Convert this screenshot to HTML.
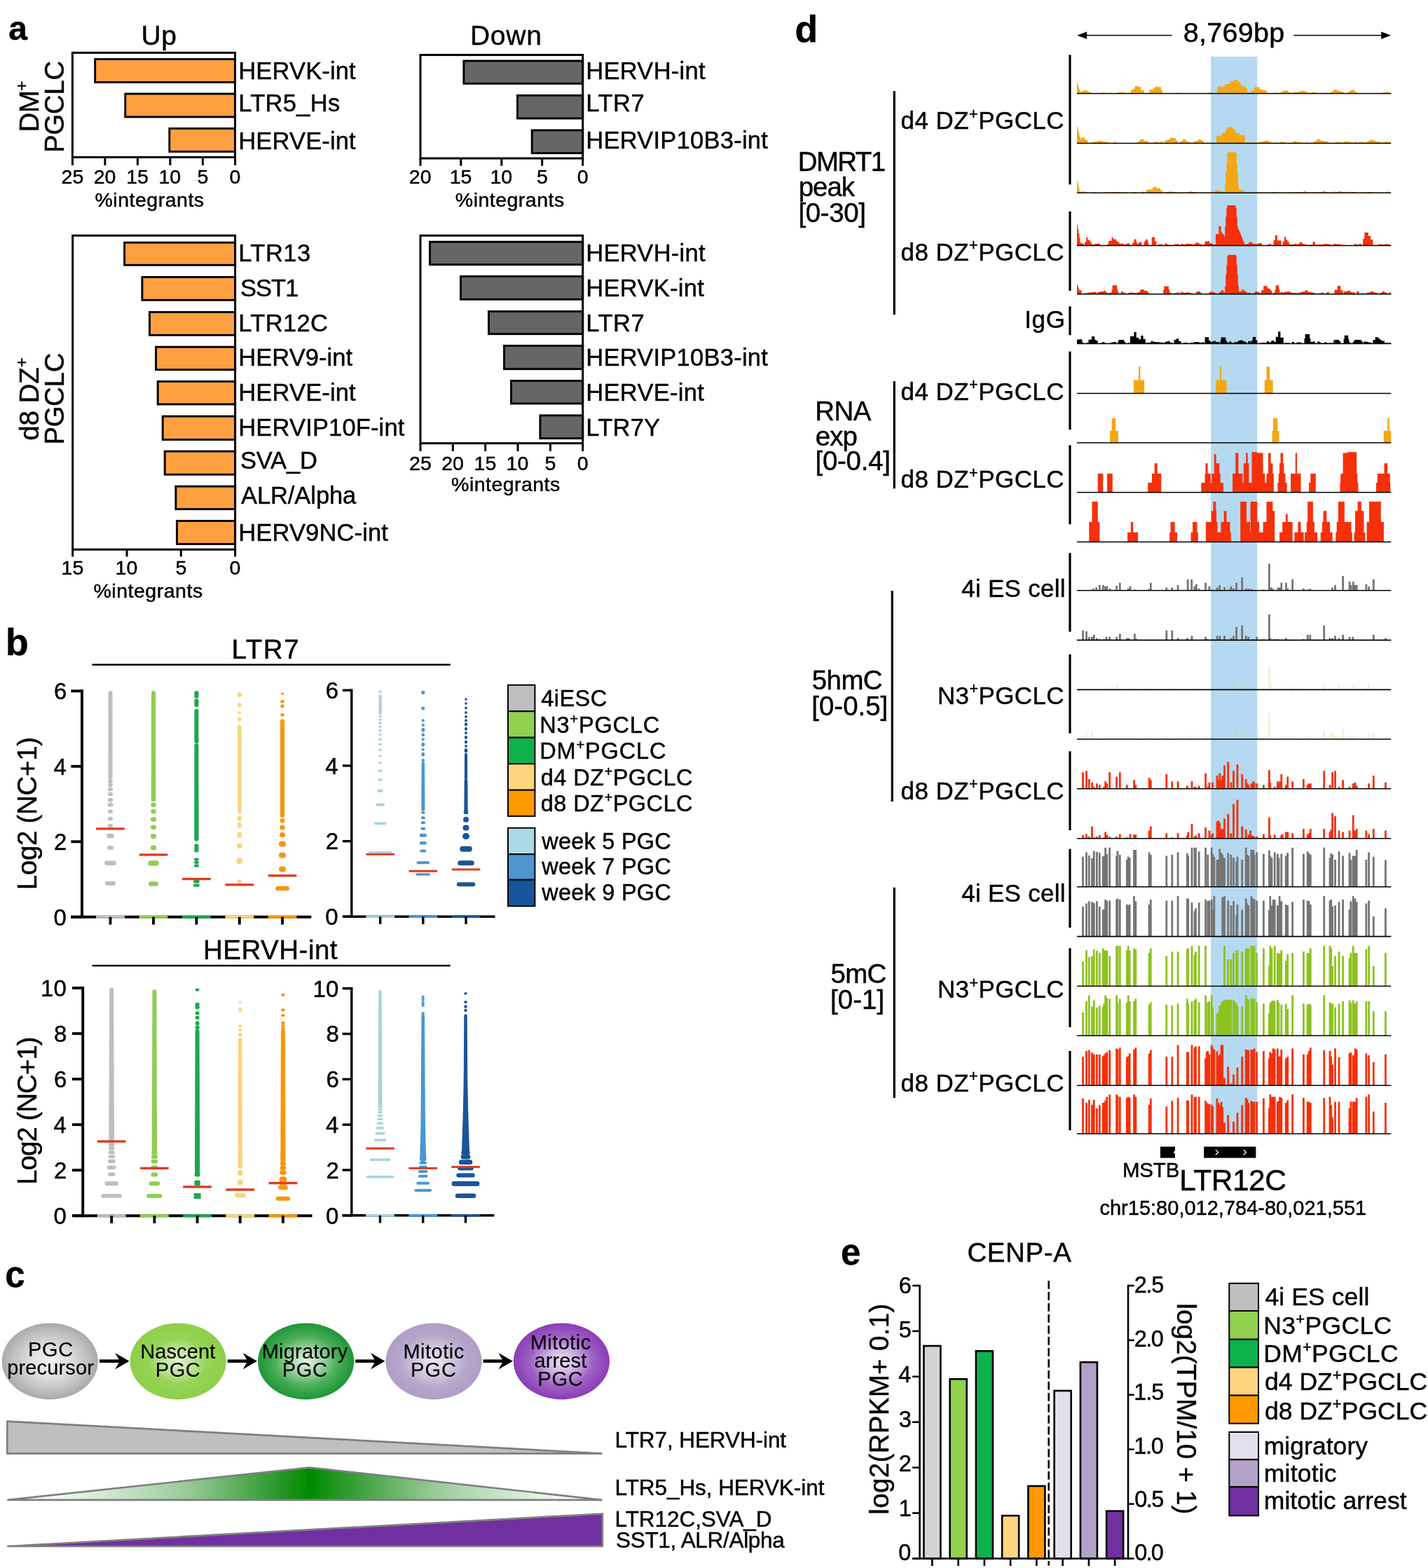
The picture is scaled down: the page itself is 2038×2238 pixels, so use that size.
<!DOCTYPE html>
<html lang="en"><head><meta charset="utf-8"><title>Figure</title>
<style>
html,body{margin:0;padding:0;background:#fff;}
body{width:2038px;height:2238px;overflow:hidden;}
svg{display:block;}
svg text{font-family:"Liberation Sans", sans-serif;fill:#000;white-space:pre;stroke:#000;stroke-width:0.45px;stroke-linejoin:round;}
</style></head><body>
<svg width="2038" height="2238" viewBox="0 0 2038 2238">
<defs>
<radialGradient id="gA" cx="0.5" cy="0.5" r="0.5"><stop offset="0" stop-color="#F2F2F2"/><stop offset="0.45" stop-color="#DCDCDC"/><stop offset="0.8" stop-color="#BDBDBD"/><stop offset="1" stop-color="#A9A9A9"/></radialGradient>
<radialGradient id="gB" cx="0.5" cy="0.5" r="0.5"><stop offset="0" stop-color="#E3F3CF"/><stop offset="0.3" stop-color="#C3E59C"/><stop offset="0.6" stop-color="#96D356"/><stop offset="1" stop-color="#8DCF4B"/></radialGradient>
<radialGradient id="gC" cx="0.5" cy="0.5" r="0.5"><stop offset="0" stop-color="#E3F2E4"/><stop offset="0.3" stop-color="#A9D6AE"/><stop offset="0.65" stop-color="#4AAE58"/><stop offset="1" stop-color="#1E9638"/></radialGradient>
<radialGradient id="gD" cx="0.5" cy="0.5" r="0.5"><stop offset="0" stop-color="#ECE7F2"/><stop offset="0.35" stop-color="#D3CAE0"/><stop offset="0.7" stop-color="#B6A6CB"/><stop offset="1" stop-color="#AF9EC6"/></radialGradient>
<radialGradient id="gE" cx="0.5" cy="0.5" r="0.5"><stop offset="0" stop-color="#EDE3F4"/><stop offset="0.3" stop-color="#D0B5E2"/><stop offset="0.65" stop-color="#9F62C4"/><stop offset="1" stop-color="#8A3DB6"/></radialGradient>
<linearGradient id="gT" x1="0" y1="0" x2="1" y2="0"><stop offset="0" stop-color="#FFFFFF"/><stop offset="0.08" stop-color="#F4FAF4"/><stop offset="0.3" stop-color="#9ACB9A"/><stop offset="0.45" stop-color="#2E9A2E"/><stop offset="0.508" stop-color="#008A00"/><stop offset="0.57" stop-color="#2E9A2E"/><stop offset="0.72" stop-color="#9ACB9A"/><stop offset="0.93" stop-color="#F4FAF4"/><stop offset="1" stop-color="#FFFFFF"/></linearGradient>
</defs>
<rect width="2038" height="2238" fill="#fff"/>
<g>
<rect x="135.70" y="84.40" width="199.80" height="33.00" fill="#FFA040" stroke="#000" stroke-width="2.9"/>
<rect x="178.80" y="133.90" width="156.70" height="33.00" fill="#FFA040" stroke="#000" stroke-width="2.9"/>
<rect x="241.80" y="183.40" width="93.70" height="33.00" fill="#FFA040" stroke="#000" stroke-width="2.9"/>
<rect x="103.40" y="75.30" width="232.10" height="149.10" fill="none" stroke="#000" stroke-width="3.0"/>
<line x1="103.50" y1="224.40" x2="103.50" y2="236.00" stroke="#000" stroke-width="3.0"/>
<line x1="149.90" y1="224.40" x2="149.90" y2="236.00" stroke="#000" stroke-width="3.0"/>
<line x1="196.40" y1="224.40" x2="196.40" y2="236.00" stroke="#000" stroke-width="3.0"/>
<line x1="242.90" y1="224.40" x2="242.90" y2="236.00" stroke="#000" stroke-width="3.0"/>
<line x1="289.40" y1="224.40" x2="289.40" y2="236.00" stroke="#000" stroke-width="3.0"/>
<line x1="335.60" y1="224.40" x2="335.60" y2="236.00" stroke="#000" stroke-width="3.0"/>
<rect x="177.60" y="346.20" width="158.00" height="32.10" fill="#FFA040" stroke="#000" stroke-width="2.9"/>
<rect x="202.90" y="395.50" width="132.70" height="32.80" fill="#FFA040" stroke="#000" stroke-width="2.9"/>
<rect x="213.50" y="445.50" width="122.10" height="32.80" fill="#FFA040" stroke="#000" stroke-width="2.9"/>
<rect x="222.50" y="495.20" width="113.10" height="32.50" fill="#FFA040" stroke="#000" stroke-width="2.9"/>
<rect x="225.20" y="544.50" width="110.40" height="32.50" fill="#FFA040" stroke="#000" stroke-width="2.9"/>
<rect x="232.20" y="594.20" width="103.40" height="33.30" fill="#FFA040" stroke="#000" stroke-width="2.9"/>
<rect x="235.20" y="644.20" width="100.40" height="33.10" fill="#FFA040" stroke="#000" stroke-width="2.9"/>
<rect x="250.90" y="694.20" width="84.70" height="32.50" fill="#FFA040" stroke="#000" stroke-width="2.9"/>
<rect x="252.50" y="743.50" width="83.10" height="33.00" fill="#FFA040" stroke="#000" stroke-width="2.9"/>
<rect x="103.70" y="336.20" width="231.90" height="448.10" fill="none" stroke="#000" stroke-width="3.0"/>
<line x1="103.70" y1="784.30" x2="103.70" y2="794.50" stroke="#000" stroke-width="3.0"/>
<line x1="181.00" y1="784.30" x2="181.00" y2="794.50" stroke="#000" stroke-width="3.0"/>
<line x1="258.30" y1="784.30" x2="258.30" y2="794.50" stroke="#000" stroke-width="3.0"/>
<line x1="335.60" y1="784.30" x2="335.60" y2="794.50" stroke="#000" stroke-width="3.0"/>
<rect x="661.90" y="86.90" width="169.80" height="32.40" fill="#666666" stroke="#000" stroke-width="2.9"/>
<rect x="738.50" y="136.20" width="93.20" height="32.80" fill="#666666" stroke="#000" stroke-width="2.9"/>
<rect x="759.20" y="185.90" width="72.50" height="32.70" fill="#666666" stroke="#000" stroke-width="2.9"/>
<rect x="600.00" y="78.40" width="231.70" height="147.60" fill="none" stroke="#000" stroke-width="3.0"/>
<line x1="600.00" y1="226.00" x2="600.00" y2="236.70" stroke="#000" stroke-width="3.0"/>
<line x1="657.80" y1="226.00" x2="657.80" y2="236.70" stroke="#000" stroke-width="3.0"/>
<line x1="715.80" y1="226.00" x2="715.80" y2="236.70" stroke="#000" stroke-width="3.0"/>
<line x1="773.70" y1="226.00" x2="773.70" y2="236.70" stroke="#000" stroke-width="3.0"/>
<line x1="831.70" y1="226.00" x2="831.70" y2="236.70" stroke="#000" stroke-width="3.0"/>
<rect x="613.50" y="345.20" width="218.20" height="32.50" fill="#666666" stroke="#000" stroke-width="2.9"/>
<rect x="657.50" y="394.50" width="174.20" height="32.80" fill="#666666" stroke="#000" stroke-width="2.9"/>
<rect x="697.50" y="444.50" width="134.20" height="32.20" fill="#666666" stroke="#000" stroke-width="2.9"/>
<rect x="719.50" y="493.50" width="112.20" height="33.20" fill="#666666" stroke="#000" stroke-width="2.9"/>
<rect x="729.50" y="543.50" width="102.20" height="32.50" fill="#666666" stroke="#000" stroke-width="2.9"/>
<rect x="770.90" y="592.90" width="60.80" height="32.80" fill="#666666" stroke="#000" stroke-width="2.9"/>
<rect x="600.00" y="336.20" width="231.70" height="296.50" fill="none" stroke="#000" stroke-width="3.0"/>
<line x1="600.00" y1="632.70" x2="600.00" y2="644.00" stroke="#000" stroke-width="3.0"/>
<line x1="646.30" y1="632.70" x2="646.30" y2="644.00" stroke="#000" stroke-width="3.0"/>
<line x1="692.70" y1="632.70" x2="692.70" y2="644.00" stroke="#000" stroke-width="3.0"/>
<line x1="739.00" y1="632.70" x2="739.00" y2="644.00" stroke="#000" stroke-width="3.0"/>
<line x1="785.40" y1="632.70" x2="785.40" y2="644.00" stroke="#000" stroke-width="3.0"/>
<line x1="831.70" y1="632.70" x2="831.70" y2="644.00" stroke="#000" stroke-width="3.0"/>
</g>
<g>
<path d="M154.40 1107.24 L154.50 988.99 A3.00 3.00 0 0 1 160.50 988.99 L160.60 1107.24 A3.10 3.10 0 0 1 154.40 1107.24 Z" fill="#BEBEBE"/>
<rect x="150.15" y="1257.75" width="14.70" height="6.00" rx="3.00" fill="#BEBEBE"/>
<rect x="149.15" y="1228.47" width="16.70" height="6.50" rx="3.25" fill="#BEBEBE"/>
<rect x="153.00" y="1207.12" width="9.00" height="6.00" rx="3.00" fill="#BEBEBE"/>
<rect x="152.25" y="1189.83" width="10.50" height="6.50" rx="3.25" fill="#BEBEBE"/>
<rect x="154.00" y="1175.97" width="7.00" height="5.50" rx="2.75" fill="#BEBEBE"/>
<rect x="154.00" y="1165.76" width="7.00" height="5.50" rx="2.75" fill="#BEBEBE"/>
<rect x="154.00" y="1155.55" width="7.00" height="5.50" rx="2.75" fill="#BEBEBE"/>
<rect x="153.50" y="1145.62" width="8.00" height="6.00" rx="3.00" fill="#BEBEBE"/>
<rect x="153.75" y="1138.89" width="7.50" height="5.50" rx="2.75" fill="#BEBEBE"/>
<rect x="154.00" y="1130.83" width="7.00" height="5.50" rx="2.75" fill="#BEBEBE"/>
<rect x="154.00" y="1123.84" width="7.00" height="5.50" rx="2.75" fill="#BEBEBE"/>
<rect x="154.10" y="1117.92" width="6.80" height="5.50" rx="2.75" fill="#BEBEBE"/>
<rect x="154.20" y="1112.55" width="6.60" height="5.50" rx="2.75" fill="#BEBEBE"/>
<rect x="154.30" y="1107.17" width="6.40" height="5.50" rx="2.75" fill="#BEBEBE"/>
<path d="M215.70 1136.80 L216.00 988.99 A3.00 3.00 0 0 1 222.00 988.99 L222.30 1136.80 A3.30 3.30 0 0 1 215.70 1136.80 Z" fill="#8FCE52"/>
<rect x="212.00" y="1258.35" width="14.00" height="6.30" rx="3.15" fill="#8FCE52"/>
<rect x="211.35" y="1228.35" width="15.30" height="7.50" rx="3.75" fill="#8FCE52"/>
<rect x="214.90" y="1206.62" width="8.20" height="7.00" rx="3.50" fill="#8FCE52"/>
<rect x="214.90" y="1189.95" width="8.20" height="7.00" rx="3.50" fill="#8FCE52"/>
<rect x="215.00" y="1177.62" width="8.00" height="6.50" rx="3.25" fill="#8FCE52"/>
<rect x="215.00" y="1166.34" width="8.00" height="6.50" rx="3.25" fill="#8FCE52"/>
<rect x="215.25" y="1155.05" width="7.50" height="6.50" rx="3.25" fill="#8FCE52"/>
<rect x="215.25" y="1145.38" width="7.50" height="6.50" rx="3.25" fill="#8FCE52"/>
<rect x="215.50" y="1138.10" width="7.00" height="6.00" rx="3.00" fill="#8FCE52"/>
<path d="M277.25 1197.54 L277.40 1064.24 A3.00 3.00 0 0 1 283.40 1064.24 L283.55 1197.54 A3.15 3.15 0 0 1 277.25 1197.54 Z" fill="#1CA750"/>
<path d="M277.40 1058.33 L277.40 1014.79 A3.00 3.00 0 0 1 283.40 1014.79 L283.40 1058.33 A3.00 3.00 0 0 1 277.40 1058.33 Z" fill="#1CA750"/>
<path d="M277.40 1006.19 L277.40 1000.27 A3.00 3.00 0 0 1 283.40 1000.27 L283.40 1006.19 A3.00 3.00 0 0 1 277.40 1006.19 Z" fill="#1CA750"/>
<path d="M277.40 993.82 L277.40 988.99 A3.00 3.00 0 0 1 283.40 988.99 L283.40 993.82 A3.00 3.00 0 0 1 277.40 993.82 Z" fill="#1CA750"/>
<rect x="275.90" y="1261.50" width="9.00" height="4.30" rx="2.15" fill="#1CA750"/>
<rect x="275.90" y="1256.12" width="9.00" height="4.30" rx="2.15" fill="#1CA750"/>
<rect x="276.90" y="1233.60" width="7.00" height="4.20" rx="2.10" fill="#1CA750"/>
<rect x="276.90" y="1228.76" width="7.00" height="4.20" rx="2.10" fill="#1CA750"/>
<rect x="276.90" y="1224.46" width="7.00" height="4.20" rx="2.10" fill="#1CA750"/>
<rect x="277.15" y="1211.95" width="6.50" height="4.50" rx="2.25" fill="#1CA750"/>
<rect x="277.15" y="1208.19" width="6.50" height="4.50" rx="2.25" fill="#1CA750"/>
<rect x="277.15" y="1204.42" width="6.50" height="4.50" rx="2.25" fill="#1CA750"/>
<path d="M339.00 1158.30 L339.10 1037.36 A2.70 2.70 0 0 1 344.50 1037.36 L344.60 1158.30 A2.80 2.80 0 0 1 339.00 1158.30 Z" fill="#FBD37F"/>
<rect x="338.80" y="1255.27" width="6.00" height="6.00" rx="3.00" fill="#FBD37F"/>
<rect x="337.80" y="1224.21" width="8.00" height="9.00" rx="4.00" fill="#FBD37F"/>
<rect x="338.30" y="1203.21" width="7.00" height="8.00" rx="3.50" fill="#FBD37F"/>
<rect x="338.55" y="1187.62" width="6.50" height="8.00" rx="3.25" fill="#FBD37F"/>
<rect x="338.60" y="1173.65" width="6.40" height="8.00" rx="3.20" fill="#FBD37F"/>
<rect x="338.80" y="1164.47" width="6.00" height="7.00" rx="3.00" fill="#FBD37F"/>
<rect x="339.05" y="1023.86" width="5.50" height="5.50" rx="2.75" fill="#FBD37F"/>
<rect x="339.20" y="1015.19" width="5.20" height="3.50" rx="1.75" fill="#FBD37F"/>
<rect x="339.05" y="1003.19" width="5.50" height="6.00" rx="2.75" fill="#FBD37F"/>
<rect x="338.80" y="988.17" width="6.00" height="7.00" rx="3.00" fill="#FBD37F"/>
<path d="M399.80 1163.67 L400.00 1029.30 A3.00 3.00 0 0 1 406.00 1029.30 L406.20 1163.67 A3.20 3.20 0 0 1 399.80 1163.67 Z" fill="#F7960E"/>
<rect x="393.20" y="1264.70" width="19.60" height="6.50" rx="3.25" fill="#F7960E"/>
<rect x="398.00" y="1236.54" width="10.00" height="8.00" rx="4.00" fill="#F7960E"/>
<rect x="398.00" y="1216.65" width="10.00" height="8.00" rx="4.00" fill="#F7960E"/>
<rect x="398.00" y="1200.52" width="10.00" height="8.00" rx="4.00" fill="#F7960E"/>
<rect x="399.00" y="1188.12" width="8.00" height="7.00" rx="3.50" fill="#F7960E"/>
<rect x="399.25" y="1177.38" width="7.50" height="7.00" rx="3.50" fill="#F7960E"/>
<rect x="399.50" y="1167.70" width="7.00" height="7.00" rx="3.50" fill="#F7960E"/>
<rect x="400.25" y="1017.66" width="5.50" height="5.00" rx="2.50" fill="#F7960E"/>
<rect x="400.25" y="1005.30" width="5.50" height="5.00" rx="2.50" fill="#F7960E"/>
<rect x="400.25" y="999.10" width="5.50" height="4.50" rx="2.25" fill="#F7960E"/>
<rect x="400.75" y="988.56" width="4.50" height="3.00" rx="1.50" fill="#F7960E"/>
<line x1="101.40" y1="1308.80" x2="444.30" y2="1308.80" stroke="#000" stroke-width="3.9"/>
<line x1="117.00" y1="984.35" x2="117.00" y2="1310.75" stroke="#000" stroke-width="3.9"/>
<line x1="101.40" y1="1308.80" x2="117.00" y2="1308.80" stroke="#000" stroke-width="3.9"/>
<line x1="101.40" y1="1201.30" x2="117.00" y2="1201.30" stroke="#000" stroke-width="3.9"/>
<line x1="101.40" y1="1093.80" x2="117.00" y2="1093.80" stroke="#000" stroke-width="3.9"/>
<line x1="101.40" y1="986.30" x2="117.00" y2="986.30" stroke="#000" stroke-width="3.9"/>
<rect x="137.10" y="1306.75" width="40.80" height="4.10" fill="#BEBEBE"/>
<line x1="157.50" y1="1308.80" x2="157.50" y2="1319.60" stroke="#000" stroke-width="3.9"/>
<rect x="198.60" y="1306.75" width="40.80" height="4.10" fill="#8FCE52"/>
<line x1="219.00" y1="1308.80" x2="219.00" y2="1319.60" stroke="#000" stroke-width="3.9"/>
<rect x="260.00" y="1306.75" width="40.80" height="4.10" fill="#1CA750"/>
<line x1="280.40" y1="1308.80" x2="280.40" y2="1319.60" stroke="#000" stroke-width="3.9"/>
<rect x="321.40" y="1306.75" width="40.80" height="4.10" fill="#FBD37F"/>
<line x1="341.80" y1="1308.80" x2="341.80" y2="1319.60" stroke="#000" stroke-width="3.9"/>
<rect x="382.60" y="1306.75" width="40.80" height="4.10" fill="#F7960E"/>
<line x1="403.00" y1="1308.80" x2="403.00" y2="1319.60" stroke="#000" stroke-width="3.9"/>
<rect x="137.20" y="1181.25" width="40.60" height="3.30" fill="#E23A1E"/>
<rect x="198.70" y="1218.35" width="40.60" height="3.30" fill="#E23A1E"/>
<rect x="260.10" y="1252.95" width="40.60" height="3.30" fill="#E23A1E"/>
<rect x="321.50" y="1261.15" width="40.60" height="3.30" fill="#E23A1E"/>
<rect x="382.70" y="1248.15" width="40.60" height="3.30" fill="#E23A1E"/>
<path d="M540.60 1016.43 L540.60 1002.43 A2.10 2.10 0 0 1 544.80 1002.43 L544.80 1016.43 A2.10 2.10 0 0 1 540.60 1016.43 Z" fill="#A8D2DF"/>
<rect x="526.20" y="1214.95" width="33.00" height="2.60" rx="1.30" fill="#A8D2DF"/>
<rect x="533.90" y="1173.55" width="17.60" height="3.50" rx="1.75" fill="#A8D2DF"/>
<rect x="536.35" y="1146.62" width="12.70" height="4.00" rx="2.00" fill="#A8D2DF"/>
<rect x="538.70" y="1126.80" width="8.00" height="4.00" rx="2.00" fill="#A8D2DF"/>
<rect x="539.45" y="1111.27" width="6.50" height="3.50" rx="1.75" fill="#A8D2DF"/>
<rect x="539.70" y="1098.16" width="6.00" height="3.50" rx="1.75" fill="#A8D2DF"/>
<rect x="540.45" y="1087.04" width="4.50" height="3.30" rx="1.65" fill="#A8D2DF"/>
<rect x="540.45" y="1077.25" width="4.50" height="3.30" rx="1.65" fill="#A8D2DF"/>
<rect x="540.45" y="1068.55" width="4.50" height="3.30" rx="1.65" fill="#A8D2DF"/>
<rect x="540.45" y="1060.73" width="4.50" height="3.30" rx="1.65" fill="#A8D2DF"/>
<rect x="540.45" y="1053.62" width="4.50" height="3.30" rx="1.65" fill="#A8D2DF"/>
<rect x="540.45" y="1047.11" width="4.50" height="3.30" rx="1.65" fill="#A8D2DF"/>
<rect x="540.45" y="1041.10" width="4.50" height="3.30" rx="1.65" fill="#A8D2DF"/>
<rect x="540.45" y="1035.53" width="4.50" height="3.30" rx="1.65" fill="#A8D2DF"/>
<rect x="540.45" y="1030.33" width="4.50" height="3.30" rx="1.65" fill="#A8D2DF"/>
<rect x="540.45" y="1025.45" width="4.50" height="3.30" rx="1.65" fill="#A8D2DF"/>
<rect x="540.45" y="1020.86" width="4.50" height="3.30" rx="1.65" fill="#A8D2DF"/>
<rect x="540.45" y="1016.53" width="4.50" height="3.30" rx="1.65" fill="#A8D2DF"/>
<rect x="540.45" y="1012.43" width="4.50" height="3.30" rx="1.65" fill="#A8D2DF"/>
<rect x="540.45" y="1008.53" width="4.50" height="3.30" rx="1.65" fill="#A8D2DF"/>
<rect x="540.45" y="1004.82" width="4.50" height="3.30" rx="1.65" fill="#A8D2DF"/>
<rect x="540.45" y="1001.28" width="4.50" height="3.30" rx="1.65" fill="#A8D2DF"/>
<rect x="540.45" y="997.89" width="4.50" height="3.30" rx="1.65" fill="#A8D2DF"/>
<rect x="540.45" y="994.65" width="4.50" height="3.30" rx="1.65" fill="#A8D2DF"/>
<rect x="540.45" y="991.53" width="4.50" height="3.30" rx="1.65" fill="#A8D2DF"/>
<rect x="540.20" y="992.43" width="5.00" height="6.00" rx="2.50" fill="#A8D2DF"/>
<rect x="540.45" y="985.60" width="4.50" height="3.50" rx="1.75" fill="#A8D2DF"/>
<path d="M601.20 1154.83 L601.60 1089.67 A2.20 2.20 0 0 1 606.00 1089.67 L606.40 1154.83 A2.60 2.60 0 0 1 601.20 1154.83 Z" fill="#4A96D2"/>
<rect x="593.50" y="1246.35" width="20.60" height="3.50" rx="1.75" fill="#4A96D2"/>
<rect x="594.50" y="1229.29" width="18.60" height="4.00" rx="2.00" fill="#4A96D2"/>
<rect x="599.30" y="1212.60" width="9.00" height="4.00" rx="2.00" fill="#4A96D2"/>
<rect x="598.80" y="1201.04" width="10.00" height="4.50" rx="2.25" fill="#4A96D2"/>
<rect x="598.80" y="1189.75" width="10.00" height="5.00" rx="2.50" fill="#4A96D2"/>
<rect x="600.30" y="1180.83" width="7.00" height="4.00" rx="2.00" fill="#4A96D2"/>
<rect x="600.55" y="1172.21" width="6.50" height="4.00" rx="2.00" fill="#4A96D2"/>
<rect x="600.80" y="1165.21" width="6.00" height="4.00" rx="2.00" fill="#4A96D2"/>
<rect x="601.05" y="1157.67" width="5.50" height="4.00" rx="2.00" fill="#4A96D2"/>
<rect x="601.65" y="1082.86" width="4.30" height="5.00" rx="2.15" fill="#4A96D2"/>
<rect x="601.40" y="1073.74" width="4.80" height="6.00" rx="2.40" fill="#4A96D2"/>
<rect x="601.70" y="1067.74" width="4.20" height="4.00" rx="2.00" fill="#4A96D2"/>
<rect x="601.40" y="1059.74" width="4.80" height="6.00" rx="2.40" fill="#4A96D2"/>
<rect x="601.70" y="1053.20" width="4.20" height="4.00" rx="2.00" fill="#4A96D2"/>
<rect x="601.70" y="1046.24" width="4.20" height="5.00" rx="2.10" fill="#4A96D2"/>
<rect x="601.40" y="1038.74" width="4.80" height="6.00" rx="2.40" fill="#4A96D2"/>
<rect x="601.70" y="1032.74" width="4.20" height="4.00" rx="2.00" fill="#4A96D2"/>
<rect x="601.70" y="1026.28" width="4.20" height="4.00" rx="2.00" fill="#4A96D2"/>
<rect x="601.30" y="1008.55" width="5.00" height="5.00" rx="2.50" fill="#4A96D2"/>
<rect x="601.15" y="985.93" width="5.30" height="5.00" rx="2.50" fill="#4A96D2"/>
<path d="M662.35 1157.52 L662.60 1114.44 A2.40 2.40 0 0 1 667.40 1114.44 L667.65 1157.52 A2.65 2.65 0 0 1 662.35 1157.52 Z" fill="#1B5596"/>
<path d="M662.85 1111.21 L663.00 1076.74 A2.00 2.00 0 0 1 667.00 1076.74 L667.15 1111.21 A2.15 2.15 0 0 1 662.85 1111.21 Z" fill="#1B5596"/>
<rect x="651.75" y="1259.20" width="26.50" height="6.00" rx="3.00" fill="#1B5596"/>
<rect x="653.25" y="1228.33" width="23.50" height="7.00" rx="3.50" fill="#1B5596"/>
<rect x="656.20" y="1207.64" width="17.60" height="8.00" rx="4.00" fill="#1B5596"/>
<rect x="660.00" y="1189.10" width="10.00" height="9.00" rx="4.50" fill="#1B5596"/>
<rect x="660.50" y="1177.48" width="9.00" height="8.00" rx="4.00" fill="#1B5596"/>
<rect x="661.00" y="1165.64" width="8.00" height="8.00" rx="4.00" fill="#1B5596"/>
<rect x="661.75" y="1156.14" width="6.50" height="6.00" rx="3.00" fill="#1B5596"/>
<rect x="662.60" y="1068.36" width="4.80" height="6.00" rx="2.40" fill="#1B5596"/>
<rect x="663.10" y="1062.90" width="3.80" height="4.00" rx="1.90" fill="#1B5596"/>
<rect x="663.00" y="1056.47" width="4.00" height="5.00" rx="2.00" fill="#1B5596"/>
<rect x="663.00" y="1050.01" width="4.00" height="5.00" rx="2.00" fill="#1B5596"/>
<rect x="663.10" y="1044.05" width="3.80" height="4.00" rx="1.90" fill="#1B5596"/>
<rect x="663.00" y="1037.63" width="4.00" height="5.00" rx="2.00" fill="#1B5596"/>
<rect x="663.00" y="1031.16" width="4.00" height="5.00" rx="2.00" fill="#1B5596"/>
<rect x="663.10" y="1026.28" width="3.80" height="4.00" rx="1.90" fill="#1B5596"/>
<rect x="663.10" y="1020.89" width="3.80" height="4.00" rx="1.90" fill="#1B5596"/>
<rect x="663.10" y="1014.97" width="3.80" height="4.00" rx="1.90" fill="#1B5596"/>
<rect x="663.20" y="1008.51" width="3.60" height="4.00" rx="1.80" fill="#1B5596"/>
<rect x="663.20" y="1002.25" width="3.60" height="3.60" rx="1.80" fill="#1B5596"/>
<rect x="663.20" y="996.32" width="3.60" height="3.60" rx="1.80" fill="#1B5596"/>
<line x1="488.90" y1="1308.30" x2="706.50" y2="1308.30" stroke="#000" stroke-width="3.4"/>
<line x1="501.80" y1="983.50" x2="501.80" y2="1310.00" stroke="#000" stroke-width="3.4"/>
<line x1="488.90" y1="1308.30" x2="501.80" y2="1308.30" stroke="#000" stroke-width="3.4"/>
<line x1="488.90" y1="1200.60" x2="501.80" y2="1200.60" stroke="#000" stroke-width="3.4"/>
<line x1="488.90" y1="1092.90" x2="501.80" y2="1092.90" stroke="#000" stroke-width="3.4"/>
<line x1="488.90" y1="985.20" x2="501.80" y2="985.20" stroke="#000" stroke-width="3.4"/>
<rect x="522.30" y="1306.50" width="40.80" height="3.60" fill="#A8D2DF"/>
<line x1="542.70" y1="1308.30" x2="542.70" y2="1319.10" stroke="#000" stroke-width="3.4"/>
<rect x="583.40" y="1306.50" width="40.80" height="3.60" fill="#4A96D2"/>
<line x1="603.80" y1="1308.30" x2="603.80" y2="1319.10" stroke="#000" stroke-width="3.4"/>
<rect x="644.60" y="1306.50" width="40.80" height="3.60" fill="#1B5596"/>
<line x1="665.00" y1="1308.30" x2="665.00" y2="1319.10" stroke="#000" stroke-width="3.4"/>
<rect x="522.40" y="1217.80" width="40.60" height="3.00" fill="#E23A1E"/>
<rect x="583.50" y="1241.80" width="40.60" height="3.00" fill="#E23A1E"/>
<rect x="644.70" y="1239.50" width="40.60" height="3.00" fill="#E23A1E"/>
<path d="M155.30 1631.20 L156.25 1412.48 A2.95 2.95 0 0 1 162.15 1412.48 L163.10 1631.20 A3.90 3.90 0 0 1 155.30 1631.20 Z" fill="#BEBEBE"/>
<rect x="144.50" y="1703.88" width="29.40" height="5.90" rx="2.95" fill="#BEBEBE"/>
<rect x="149.40" y="1686.23" width="19.60" height="5.90" rx="2.95" fill="#BEBEBE"/>
<rect x="153.80" y="1673.30" width="10.80" height="5.50" rx="2.75" fill="#BEBEBE"/>
<rect x="152.85" y="1663.55" width="12.70" height="5.50" rx="2.75" fill="#BEBEBE"/>
<rect x="153.80" y="1654.78" width="10.80" height="5.50" rx="2.75" fill="#BEBEBE"/>
<rect x="154.30" y="1648.20" width="9.80" height="5.00" rx="2.50" fill="#BEBEBE"/>
<rect x="154.70" y="1642.35" width="9.00" height="5.00" rx="2.50" fill="#BEBEBE"/>
<rect x="155.00" y="1636.83" width="8.40" height="5.00" rx="2.50" fill="#BEBEBE"/>
<rect x="155.20" y="1631.95" width="8.00" height="5.00" rx="2.50" fill="#BEBEBE"/>
<path d="M216.70 1640.95 L217.45 1415.08 A2.95 2.95 0 0 1 223.35 1415.08 L224.10 1640.95 A3.70 3.70 0 0 1 216.70 1640.95 Z" fill="#8FCE52"/>
<rect x="209.15" y="1703.88" width="22.50" height="5.90" rx="2.95" fill="#8FCE52"/>
<rect x="212.55" y="1686.18" width="15.70" height="6.00" rx="3.00" fill="#8FCE52"/>
<rect x="215.50" y="1673.38" width="9.80" height="6.00" rx="3.00" fill="#8FCE52"/>
<rect x="215.50" y="1663.30" width="9.80" height="6.00" rx="3.00" fill="#8FCE52"/>
<rect x="215.50" y="1654.85" width="9.80" height="6.00" rx="3.00" fill="#8FCE52"/>
<rect x="215.90" y="1648.03" width="9.00" height="6.00" rx="3.00" fill="#8FCE52"/>
<rect x="216.20" y="1642.17" width="8.40" height="6.00" rx="3.00" fill="#8FCE52"/>
<path d="M278.00 1670.20 L278.60 1471.95 A3.00 3.00 0 0 1 284.60 1471.95 L285.20 1670.20 A3.60 3.60 0 0 1 278.00 1670.20 Z" fill="#1CA750"/>
<rect x="276.20" y="1706.88" width="10.80" height="4.00" rx="2.00" fill="#1CA750"/>
<rect x="276.20" y="1702.98" width="10.80" height="4.00" rx="2.00" fill="#1CA750"/>
<rect x="277.20" y="1687.78" width="8.80" height="4.50" rx="2.25" fill="#1CA750"/>
<rect x="277.20" y="1684.85" width="8.80" height="4.50" rx="2.25" fill="#1CA750"/>
<rect x="277.60" y="1675.10" width="8.00" height="4.50" rx="2.25" fill="#1CA750"/>
<rect x="277.60" y="1672.17" width="8.00" height="4.50" rx="2.25" fill="#1CA750"/>
<rect x="278.60" y="1463.43" width="6.00" height="6.00" rx="3.00" fill="#1CA750"/>
<rect x="278.60" y="1457.58" width="6.00" height="6.00" rx="3.00" fill="#1CA750"/>
<rect x="278.60" y="1449.70" width="6.00" height="5.50" rx="2.75" fill="#1CA750"/>
<rect x="278.60" y="1443.45" width="6.00" height="5.00" rx="2.50" fill="#1CA750"/>
<rect x="278.40" y="1434.50" width="6.40" height="6.00" rx="3.00" fill="#1CA750"/>
<rect x="278.40" y="1431.10" width="6.40" height="5.00" rx="2.50" fill="#1CA750"/>
<rect x="278.65" y="1410.80" width="5.90" height="4.00" rx="2.00" fill="#1CA750"/>
<path d="M339.50 1660.45 L339.90 1483.65 A2.80 2.80 0 0 1 345.50 1483.65 L345.90 1660.45 A3.20 3.20 0 0 1 339.50 1660.45 Z" fill="#FBD37F"/>
<rect x="334.35" y="1702.95" width="16.70" height="6.00" rx="3.00" fill="#FBD37F"/>
<rect x="338.60" y="1683.75" width="8.20" height="8.00" rx="4.00" fill="#FBD37F"/>
<rect x="338.80" y="1670.10" width="7.80" height="8.00" rx="3.90" fill="#FBD37F"/>
<rect x="339.20" y="1661.17" width="7.00" height="7.00" rx="3.50" fill="#FBD37F"/>
<rect x="339.95" y="1474.33" width="5.50" height="5.00" rx="2.50" fill="#FBD37F"/>
<rect x="340.20" y="1468.00" width="5.00" height="4.00" rx="2.00" fill="#FBD37F"/>
<rect x="340.20" y="1462.15" width="5.00" height="4.00" rx="2.00" fill="#FBD37F"/>
<rect x="340.20" y="1441.60" width="5.00" height="3.50" rx="1.75" fill="#FBD37F"/>
<rect x="340.20" y="1438.35" width="5.00" height="3.50" rx="1.75" fill="#FBD37F"/>
<rect x="340.45" y="1428.93" width="4.50" height="3.50" rx="1.75" fill="#FBD37F"/>
<path d="M400.30 1655.90 L400.95 1471.95 A2.95 2.95 0 0 1 406.85 1471.95 L407.50 1655.90 A3.60 3.60 0 0 1 400.30 1655.90 Z" fill="#F7960E"/>
<rect x="393.60" y="1707.83" width="20.60" height="6.00" rx="3.00" fill="#F7960E"/>
<rect x="397.05" y="1691.81" width="13.70" height="6.50" rx="3.25" fill="#F7960E"/>
<rect x="398.40" y="1685.73" width="11.00" height="6.00" rx="3.00" fill="#F7960E"/>
<rect x="398.50" y="1679.20" width="10.80" height="8.00" rx="4.00" fill="#F7960E"/>
<rect x="399.20" y="1669.95" width="9.40" height="7.00" rx="3.50" fill="#F7960E"/>
<rect x="399.50" y="1663.45" width="8.80" height="7.00" rx="3.50" fill="#F7960E"/>
<rect x="399.90" y="1656.95" width="8.00" height="7.00" rx="3.50" fill="#F7960E"/>
<rect x="401.15" y="1466.05" width="5.50" height="4.00" rx="2.00" fill="#F7960E"/>
<rect x="401.15" y="1462.15" width="5.50" height="4.00" rx="2.00" fill="#F7960E"/>
<rect x="401.15" y="1457.75" width="5.50" height="5.00" rx="2.50" fill="#F7960E"/>
<rect x="401.15" y="1447.20" width="5.50" height="4.00" rx="2.00" fill="#F7960E"/>
<rect x="401.15" y="1439.40" width="5.50" height="4.00" rx="2.00" fill="#F7960E"/>
<rect x="401.15" y="1417.95" width="5.50" height="4.00" rx="2.00" fill="#F7960E"/>
<line x1="103.00" y1="1735.20" x2="445.50" y2="1735.20" stroke="#000" stroke-width="3.9"/>
<line x1="118.20" y1="1408.25" x2="118.20" y2="1737.15" stroke="#000" stroke-width="3.9"/>
<line x1="103.00" y1="1735.20" x2="118.20" y2="1735.20" stroke="#000" stroke-width="3.9"/>
<line x1="103.00" y1="1670.20" x2="118.20" y2="1670.20" stroke="#000" stroke-width="3.9"/>
<line x1="103.00" y1="1605.20" x2="118.20" y2="1605.20" stroke="#000" stroke-width="3.9"/>
<line x1="103.00" y1="1540.20" x2="118.20" y2="1540.20" stroke="#000" stroke-width="3.9"/>
<line x1="103.00" y1="1475.20" x2="118.20" y2="1475.20" stroke="#000" stroke-width="3.9"/>
<line x1="103.00" y1="1410.20" x2="118.20" y2="1410.20" stroke="#000" stroke-width="3.9"/>
<rect x="138.80" y="1733.15" width="40.80" height="4.10" fill="#BEBEBE"/>
<line x1="159.20" y1="1735.20" x2="159.20" y2="1746.00" stroke="#000" stroke-width="3.9"/>
<rect x="200.00" y="1733.15" width="40.80" height="4.10" fill="#8FCE52"/>
<line x1="220.40" y1="1735.20" x2="220.40" y2="1746.00" stroke="#000" stroke-width="3.9"/>
<rect x="261.20" y="1733.15" width="40.80" height="4.10" fill="#1CA750"/>
<line x1="281.60" y1="1735.20" x2="281.60" y2="1746.00" stroke="#000" stroke-width="3.9"/>
<rect x="322.30" y="1733.15" width="40.80" height="4.10" fill="#FBD37F"/>
<line x1="342.70" y1="1735.20" x2="342.70" y2="1746.00" stroke="#000" stroke-width="3.9"/>
<rect x="383.50" y="1733.15" width="40.80" height="4.10" fill="#F7960E"/>
<line x1="403.90" y1="1735.20" x2="403.90" y2="1746.00" stroke="#000" stroke-width="3.9"/>
<rect x="138.90" y="1627.40" width="40.60" height="3.40" fill="#E23A1E"/>
<rect x="200.10" y="1665.70" width="40.60" height="3.40" fill="#E23A1E"/>
<rect x="261.30" y="1692.30" width="40.60" height="3.40" fill="#E23A1E"/>
<rect x="322.40" y="1696.30" width="40.60" height="3.40" fill="#E23A1E"/>
<rect x="383.60" y="1686.90" width="40.60" height="3.40" fill="#E23A1E"/>
<path d="M539.55 1574.42 L540.35 1415.34 A2.15 2.15 0 0 1 544.65 1415.34 L545.45 1574.42 A2.95 2.95 0 0 1 539.55 1574.42 Z" fill="#A8D2DF"/>
<rect x="522.50" y="1678.10" width="40.00" height="3.50" rx="1.75" fill="#A8D2DF"/>
<rect x="527.80" y="1653.53" width="29.40" height="3.50" rx="1.75" fill="#A8D2DF"/>
<rect x="531.50" y="1637.52" width="22.00" height="3.50" rx="1.75" fill="#A8D2DF"/>
<rect x="533.70" y="1625.61" width="17.60" height="3.50" rx="1.75" fill="#A8D2DF"/>
<rect x="535.15" y="1616.12" width="14.70" height="3.50" rx="1.75" fill="#A8D2DF"/>
<rect x="536.80" y="1608.25" width="11.40" height="3.50" rx="1.75" fill="#A8D2DF"/>
<rect x="537.80" y="1601.50" width="9.40" height="3.50" rx="1.75" fill="#A8D2DF"/>
<rect x="538.40" y="1595.61" width="8.20" height="3.50" rx="1.75" fill="#A8D2DF"/>
<rect x="538.75" y="1590.38" width="7.50" height="3.50" rx="1.75" fill="#A8D2DF"/>
<rect x="539.00" y="1585.68" width="7.00" height="3.50" rx="1.75" fill="#A8D2DF"/>
<rect x="539.20" y="1581.41" width="6.60" height="3.50" rx="1.75" fill="#A8D2DF"/>
<rect x="539.35" y="1577.49" width="6.30" height="3.50" rx="1.75" fill="#A8D2DF"/>
<rect x="539.45" y="1573.88" width="6.10" height="3.50" rx="1.75" fill="#A8D2DF"/>
<path d="M599.20 1653.80 L600.45 1605.20 A3.25 3.25 0 0 1 606.95 1605.20 L608.20 1653.80 A4.50 4.50 0 0 1 599.20 1653.80 Z" fill="#4A96D2"/>
<path d="M600.45 1605.20 L601.45 1449.68 A2.25 2.25 0 0 1 605.95 1449.68 L606.95 1605.20 A3.25 3.25 0 0 1 600.45 1605.20 Z" fill="#4A96D2"/>
<rect x="591.45" y="1696.90" width="24.50" height="4.00" rx="2.00" fill="#4A96D2"/>
<rect x="594.40" y="1686.79" width="18.60" height="4.00" rx="2.00" fill="#4A96D2"/>
<rect x="596.85" y="1676.75" width="13.70" height="4.00" rx="2.00" fill="#4A96D2"/>
<rect x="596.85" y="1669.94" width="13.70" height="4.00" rx="2.00" fill="#4A96D2"/>
<rect x="597.70" y="1663.79" width="12.00" height="4.00" rx="2.00" fill="#4A96D2"/>
<rect x="598.30" y="1657.63" width="10.80" height="4.00" rx="2.00" fill="#4A96D2"/>
<rect x="598.80" y="1652.77" width="9.80" height="4.00" rx="2.00" fill="#4A96D2"/>
<rect x="601.45" y="1444.44" width="4.50" height="4.00" rx="2.00" fill="#4A96D2"/>
<rect x="601.45" y="1433.10" width="4.50" height="4.00" rx="2.00" fill="#4A96D2"/>
<rect x="601.45" y="1429.21" width="4.50" height="4.00" rx="2.00" fill="#4A96D2"/>
<rect x="601.45" y="1425.00" width="4.50" height="4.00" rx="2.00" fill="#4A96D2"/>
<rect x="601.45" y="1421.11" width="4.50" height="4.00" rx="2.00" fill="#4A96D2"/>
<path d="M659.00 1642.46 L660.75 1589.00 A3.75 3.75 0 0 1 668.25 1589.00 L670.00 1642.46 A5.50 5.50 0 0 1 659.00 1642.46 Z" fill="#1B5596"/>
<path d="M660.75 1589.00 L661.75 1540.40 A2.75 2.75 0 0 1 667.25 1540.40 L668.25 1589.00 A3.75 3.75 0 0 1 660.75 1589.00 Z" fill="#1B5596"/>
<path d="M661.75 1540.40 L662.25 1449.68 A2.25 2.25 0 0 1 666.75 1449.68 L667.25 1540.40 A2.75 2.75 0 0 1 661.75 1540.40 Z" fill="#1B5596"/>
<rect x="649.80" y="1703.49" width="29.40" height="6.50" rx="3.25" fill="#1B5596"/>
<rect x="644.50" y="1685.94" width="40.00" height="7.00" rx="3.50" fill="#1B5596"/>
<rect x="651.25" y="1674.45" width="26.50" height="6.00" rx="3.00" fill="#1B5596"/>
<rect x="653.25" y="1664.41" width="22.50" height="6.00" rx="3.00" fill="#1B5596"/>
<rect x="654.70" y="1655.16" width="19.60" height="7.00" rx="3.50" fill="#1B5596"/>
<rect x="657.65" y="1647.38" width="13.70" height="7.00" rx="3.50" fill="#1B5596"/>
<rect x="658.15" y="1642.05" width="12.70" height="6.00" rx="3.00" fill="#1B5596"/>
<rect x="662.25" y="1439.65" width="4.50" height="4.50" rx="2.25" fill="#1B5596"/>
<rect x="662.25" y="1434.47" width="4.50" height="4.50" rx="2.25" fill="#1B5596"/>
<rect x="662.25" y="1428.24" width="4.50" height="4.00" rx="2.00" fill="#1B5596"/>
<rect x="662.25" y="1416.18" width="4.50" height="3.50" rx="1.75" fill="#1B5596"/>
<line x1="488.60" y1="1734.80" x2="705.30" y2="1734.80" stroke="#000" stroke-width="3.4"/>
<line x1="501.80" y1="1409.10" x2="501.80" y2="1736.50" stroke="#000" stroke-width="3.4"/>
<line x1="488.60" y1="1734.80" x2="501.80" y2="1734.80" stroke="#000" stroke-width="3.4"/>
<line x1="488.60" y1="1670.00" x2="501.80" y2="1670.00" stroke="#000" stroke-width="3.4"/>
<line x1="488.60" y1="1605.20" x2="501.80" y2="1605.20" stroke="#000" stroke-width="3.4"/>
<line x1="488.60" y1="1540.40" x2="501.80" y2="1540.40" stroke="#000" stroke-width="3.4"/>
<line x1="488.60" y1="1475.60" x2="501.80" y2="1475.60" stroke="#000" stroke-width="3.4"/>
<line x1="488.60" y1="1410.80" x2="501.80" y2="1410.80" stroke="#000" stroke-width="3.4"/>
<rect x="522.10" y="1733.00" width="40.80" height="3.60" fill="#A8D2DF"/>
<line x1="542.50" y1="1734.80" x2="542.50" y2="1745.60" stroke="#000" stroke-width="3.4"/>
<rect x="583.30" y="1733.00" width="40.80" height="3.60" fill="#4A96D2"/>
<line x1="603.70" y1="1734.80" x2="603.70" y2="1745.60" stroke="#000" stroke-width="3.4"/>
<rect x="644.10" y="1733.00" width="40.80" height="3.60" fill="#1B5596"/>
<line x1="664.50" y1="1734.80" x2="664.50" y2="1745.60" stroke="#000" stroke-width="3.4"/>
<rect x="522.20" y="1637.60" width="40.60" height="3.00" fill="#E23A1E"/>
<rect x="583.40" y="1665.90" width="40.60" height="3.00" fill="#E23A1E"/>
<rect x="644.20" y="1664.10" width="40.60" height="3.00" fill="#E23A1E"/>
<line x1="131.50" y1="948.80" x2="642.70" y2="948.80" stroke="#000" stroke-width="2.4"/>
<line x1="131.50" y1="1378.30" x2="642.70" y2="1378.30" stroke="#000" stroke-width="2.4"/>
<rect x="725.00" y="977.70" width="38.40" height="37.50" fill="#BFBFBF" stroke="#000" stroke-width="2.0"/>
<rect x="725.00" y="1015.20" width="38.40" height="37.50" fill="#92D050" stroke="#000" stroke-width="2.0"/>
<rect x="725.00" y="1052.70" width="38.40" height="37.50" fill="#0DB14B" stroke="#000" stroke-width="2.0"/>
<rect x="725.00" y="1090.20" width="38.40" height="37.50" fill="#FFD580" stroke="#000" stroke-width="2.0"/>
<rect x="725.00" y="1127.70" width="38.40" height="37.20" fill="#FF9900" stroke="#000" stroke-width="2.0"/>
<rect x="725.00" y="1181.70" width="38.40" height="37.60" fill="#ADD8E6" stroke="#000" stroke-width="2.0"/>
<rect x="725.00" y="1219.30" width="38.40" height="36.40" fill="#4D96D0" stroke="#000" stroke-width="2.0"/>
<rect x="725.00" y="1255.70" width="38.40" height="37.60" fill="#17569B" stroke="#000" stroke-width="2.0"/>
</g>
<g>
<ellipse cx="71.3" cy="1943.0" rx="68.6" ry="54.4" fill="url(#gA)"/>
<ellipse cx="254.2" cy="1943.0" rx="68.6" ry="54.4" fill="url(#gB)"/>
<ellipse cx="436.6" cy="1943.0" rx="68.6" ry="54.4" fill="url(#gC)"/>
<ellipse cx="619.0" cy="1943.0" rx="68.6" ry="54.4" fill="url(#gD)"/>
<ellipse cx="801.4" cy="1943.0" rx="68.6" ry="54.4" fill="url(#gE)"/>
<line x1="141.90" y1="1942.70" x2="172.20" y2="1942.70" stroke="#000" stroke-width="4.6"/>
<path d="M184.60 1942.70 L164.20 1931.00 L171.00 1942.70 L164.20 1954.40 Z" fill="#000"/>
<line x1="324.80" y1="1942.70" x2="354.60" y2="1942.70" stroke="#000" stroke-width="4.6"/>
<path d="M367.00 1942.70 L346.60 1931.00 L353.40 1942.70 L346.60 1954.40 Z" fill="#000"/>
<line x1="507.20" y1="1942.70" x2="537.00" y2="1942.70" stroke="#000" stroke-width="4.6"/>
<path d="M549.40 1942.70 L529.00 1931.00 L535.80 1942.70 L529.00 1954.40 Z" fill="#000"/>
<line x1="689.60" y1="1942.70" x2="719.40" y2="1942.70" stroke="#000" stroke-width="4.6"/>
<path d="M731.80 1942.70 L711.40 1931.00 L718.20 1942.70 L711.40 1954.40 Z" fill="#000"/>
<path d="M10.3 2028.6 L859.5 2074.6 L10.3 2074.6 Z" fill="#BFBFBF" stroke="#7F7F7F" stroke-width="2.7" stroke-linejoin="miter"/>
<path d="M10.3 2140.8 L441.7 2094.6 L859.5 2140.8 Z" fill="url(#gT)" stroke="#7F7F7F" stroke-width="2.7" stroke-linejoin="miter"/>
<path d="M10.3 2207.0 L859.8 2160.6 L859.8 2207.0 Z" fill="#7030A0" stroke="#7F7F7F" stroke-width="2.7" stroke-linejoin="miter"/>
</g>
<g>
<rect x="1728.10" y="80.80" width="66.10" height="1537.40" fill="#B5D9F0"/>
<path d="M1537.0 133.6V118.5H1538.1V121.6H1539.2V124.7H1540.3V128.0H1541.4V131.2H1544.7V129.9H1546.9V129.1H1551.3V130.4H1553.5V131.2H1556.8V133.5H1560.1V133.6H1566.7V133.3H1570.0V133.2H1573.3V131.7H1576.6V133.1H1579.9V133.3H1583.2V132.7H1586.5V133.6H1593.1V132.9H1595.3V131.8H1600.8V131.7H1605.2V132.3H1606.3V133.6H1609.6V132.5H1614.0V128.2H1617.3V126.6H1619.5V123.1H1625.0V124.1H1628.3V128.7H1632.7V133.2H1636.0V132.8H1639.3V133.4H1640.4V127.9H1642.6V128.1H1645.9V125.6H1649.2V123.0H1651.4V124.2H1656.9V128.4H1659.1V133.2H1662.4V133.6H1669.0V133.0H1672.3V132.9H1676.7V132.5H1680.0V132.4H1683.3V133.0H1686.6V133.2H1688.8V133.6H1695.4V133.0H1698.7V133.5H1702.0V133.6H1705.3V133.5H1711.9V133.4H1715.2V133.2H1718.5V133.5H1721.8V132.7H1725.1V132.3H1728.4V132.6H1731.7V133.5H1735.0V133.6H1737.2V123.7H1740.5V123.6H1742.7V124.1H1746.0V122.9H1748.2V120.1H1753.7V119.0H1755.9V115.9H1761.4V113.9H1765.8V116.4H1768.0V117.5H1770.2V122.2H1773.5V123.5H1777.9V125.7H1780.1V132.7H1781.2V132.3H1784.5V133.2H1785.6V129.3H1790.0V124.4H1794.4V124.2H1797.7V127.5H1802.1V129.1H1807.6V132.6H1810.9V133.6H1814.2V133.2H1817.5V132.5H1820.8V132.6H1824.1V133.6H1827.4V131.6H1829.6V130.3H1832.9V129.2H1835.1V129.4H1838.4V131.6H1841.7V133.6H1843.9V132.9H1845.0V131.7H1848.3V131.5H1852.7V130.5H1856.0V130.1H1858.2V129.6H1861.5V130.4H1864.8V131.9H1867.0V131.7H1868.1V133.4H1870.3V133.2H1871.4V131.6H1874.7V131.8H1878.0V132.3H1879.1V133.2H1880.2V133.0H1883.5V133.2H1886.8V132.7H1890.1V132.8H1893.4V132.5H1896.7V133.3H1898.9V131.2H1901.1V130.3H1903.3V127.9H1907.7V129.1H1909.9V130.2H1913.2V130.9H1915.4V131.0H1917.6V133.6H1919.8V133.5H1923.1V133.6H1924.2V130.6H1927.5V128.8H1930.8V128.1H1933.0V130.9H1936.3V132.9H1939.6V133.6H1952.8V132.9H1956.1V133.6H1959.4V132.7H1962.7V133.6H1969.3V132.8H1972.6V132.1H1978.1V131.0H1980.3V131.9H1982.5V132.3H1984.7V132.9H1985.3V133.6Z" fill="#F2A814"/>
<line x1="1537.00" y1="133.60" x2="1985.30" y2="133.60" stroke="#000" stroke-width="1.5"/>
<path d="M1537.0 204.5V180.4H1538.1V184.4H1539.2V188.5H1540.3V192.7H1541.4V197.0H1542.5V199.3H1543.6V196.3H1548.0V198.8H1550.2V200.0H1552.4V204.5H1553.5V204.2H1556.8V203.9H1557.9V202.4H1562.3V202.3H1566.7V201.1H1568.9V200.7H1572.2V202.0H1577.7V202.5H1579.9V202.8H1581.0V203.5H1583.2V204.2H1586.5V204.3H1589.8V202.6H1593.1V204.3H1596.4V204.5H1603.0V204.1H1609.6V204.4H1612.9V204.2H1616.2V204.0H1619.5V203.7H1622.8V203.5H1623.9V201.5H1627.2V198.8H1632.7V201.2H1638.2V201.9H1639.3V204.3H1642.6V204.5H1645.9V203.2H1648.1V202.2H1651.4V202.9H1654.7V204.0H1655.8V202.1H1659.1V204.2H1662.4V200.6H1665.7V199.3H1667.9V198.8H1670.1V196.2H1672.3V196.9H1677.8V200.4H1681.1V203.9H1682.2V204.1H1683.3V201.8H1687.7V198.7H1692.1V201.6H1695.4V202.1H1696.5V203.0H1698.7V204.5H1702.0V203.7H1704.2V201.3H1709.7V199.2H1713.0V199.4H1715.2V201.0H1717.4V201.7H1718.5V204.2H1721.8V203.4H1725.1V203.8H1728.4V204.1H1731.7V204.5H1735.0V203.7H1736.1V194.1H1738.3V194.3H1743.8V189.3H1749.3V184.5H1751.5V182.3H1755.9V181.3H1758.1V182.6H1760.3V185.4H1763.6V189.9H1766.9V190.1H1769.1V193.3H1772.4V193.2H1775.7V192.8H1776.8V203.8H1777.9V203.2H1781.2V203.5H1787.8V203.7H1794.4V204.0H1795.5V202.7H1798.8V202.6H1801.0V202.1H1805.4V200.7H1810.9V202.5H1815.3V204.0H1817.5V203.5H1820.8V203.6H1824.1V204.5H1827.4V202.6H1830.7V203.0H1834.0V204.0H1837.3V203.7H1840.6V204.1H1843.9V203.0H1846.1V201.4H1848.3V201.6H1850.5V203.1H1856.0V203.5H1857.1V203.7H1860.4V204.1H1863.7V203.3H1867.0V204.5H1870.3V203.7H1873.6V203.5H1874.7V201.6H1879.1V199.0H1884.6V200.9H1890.1V201.8H1893.4V202.0H1895.6V203.2H1896.7V204.5H1900.0V204.1H1903.3V203.5H1906.6V202.4H1911.0V203.0H1913.2V203.4H1916.5V202.7H1918.7V201.8H1924.2V202.2H1926.4V203.0H1929.7V204.0H1933.0V202.6H1936.3V203.5H1939.6V202.5H1945.1V203.2H1946.2V203.4H1947.3V204.2H1949.5V203.0H1950.6V202.1H1952.8V201.2H1955.0V199.7H1959.4V200.4H1962.7V201.5H1964.9V202.3H1970.4V204.0H1972.6V203.1H1975.9V202.5H1978.1V202.0H1980.3V203.0H1984.7V204.5H1985.3V204.5Z" fill="#F2A814"/>
<line x1="1537.00" y1="204.50" x2="1985.30" y2="204.50" stroke="#000" stroke-width="1.5"/>
<path d="M1537.0 275.3V258.1H1538.1V262.6H1539.2V267.3H1540.3V272.3H1541.4V273.8H1544.7V272.9H1548.0V274.2H1549.1V275.2H1550.2V274.4H1553.5V274.9H1556.8V275.1H1560.1V273.8H1563.4V275.3H1576.6V274.5H1579.9V274.4H1583.2V274.2H1586.5V273.8H1589.8V273.9H1593.1V274.5H1596.4V274.1H1599.7V274.5H1603.0V275.3H1606.3V274.4H1609.6V274.9H1612.9V275.1H1616.2V273.7H1619.5V274.4H1622.8V275.2H1626.1V275.0H1629.4V273.5H1632.7V275.1H1636.0V270.9H1638.2V270.8H1640.4V270.2H1644.8V267.5H1648.1V266.3H1650.3V268.4H1655.8V271.6H1659.1V275.1H1662.4V274.4H1665.7V273.9H1667.9V273.3H1673.4V274.1H1676.7V275.3H1682.2V275.1H1685.5V274.8H1688.8V275.2H1691.0V274.4H1694.3V274.0H1697.6V273.3H1702.0V273.9H1705.3V274.3H1709.7V275.3H1715.2V274.6H1718.5V274.7H1721.8V275.3H1725.1V274.4H1728.4V274.7H1729.5V273.2H1735.0V271.5H1738.3V271.7H1740.5V272.2H1743.8V273.5H1748.2V263.3H1749.3V246.5H1750.4V231.9H1751.5V218.5H1752.6V217.2H1763.6V218.5H1764.7V231.9H1765.8V246.5H1766.9V263.3H1768.0V271.0H1772.4V272.2H1776.8V274.5H1777.9V274.8H1781.2V275.3H1784.5V274.2H1787.8V274.3H1791.1V274.7H1794.4V274.8H1797.7V274.5H1801.0V275.3H1804.3V274.7H1807.6V275.3H1810.9V274.8H1814.2V274.3H1817.5V273.7H1820.8V275.2H1824.1V274.6H1827.4V275.0H1830.7V275.3H1831.8V274.7H1834.0V274.5H1837.3V274.7H1839.5V274.6H1845.0V274.3H1848.3V274.2H1853.8V274.0H1859.3V274.1H1860.4V272.7H1863.7V274.4H1865.9V274.6H1870.3V274.7H1872.5V274.6H1875.8V275.3H1876.9V274.0H1880.2V274.5H1883.5V275.3H1884.6V273.9H1887.9V272.6H1891.2V273.7H1894.5V274.0H1895.6V275.3H1896.7V274.8H1900.0V275.1H1903.3V273.5H1906.6V274.7H1907.7V273.9H1909.9V272.8H1912.1V273.1H1914.3V274.0H1916.5V273.7H1919.8V275.2H1922.0V274.5H1923.1V273.5H1926.4V274.2H1928.6V273.8H1931.9V274.1H1934.1V274.6H1936.3V275.3H1939.6V275.1H1942.9V274.5H1946.2V275.3H1947.3V274.6H1950.6V274.1H1956.1V274.0H1959.4V274.5H1960.5V274.7H1961.6V275.3H1962.7V274.7H1966.0V275.3H1969.3V274.3H1972.6V275.3H1979.2V273.6H1982.5V275.3H1985.3V275.3Z" fill="#F2A814"/>
<line x1="1537.00" y1="275.30" x2="1985.30" y2="275.30" stroke="#000" stroke-width="1.5"/>
<path d="M1537.0 350.6V320.9H1538.1V326.9H1539.2V333.1H1540.3V339.6H1541.4V346.5H1542.5V347.0H1543.6V347.2H1545.8V347.9H1546.9V350.6H1548.0V345.3H1550.2V339.1H1552.4V342.6H1555.7V345.6H1557.9V349.1H1560.1V349.0H1562.3V348.1H1565.6V347.7H1570.0V350.6H1573.3V349.9H1576.6V350.1H1579.9V348.4H1582.1V343.8H1586.5V338.6H1588.7V341.5H1593.1V344.2H1595.3V345.5H1597.5V348.1H1599.7V347.6H1603.0V348.9H1605.2V348.5H1608.5V347.3H1611.8V348.7H1612.9V350.6H1616.2V346.3H1618.4V341.6H1621.7V345.9H1622.8V348.3H1625.0V345.8H1629.4V350.6H1632.7V344.6H1634.9V341.8H1638.2V346.3H1639.3V350.2H1642.6V350.6H1643.7V338.5H1648.1V344.6H1650.3V349.9H1652.5V349.1H1655.8V348.7H1659.1V350.6H1662.4V347.7H1665.7V349.0H1666.8V349.4H1671.2V350.6H1672.3V350.4H1675.6V348.4H1678.9V348.3H1682.2V350.4H1683.3V349.4H1685.5V348.1H1688.8V349.2H1692.1V347.7H1695.4V347.9H1698.7V348.3H1702.0V350.6H1703.1V348.3H1706.4V345.9H1708.6V347.1H1711.9V348.4H1715.2V349.6H1718.5V348.8H1719.6V344.4H1724.0V344.1H1726.2V346.9H1729.5V348.0H1731.7V348.9H1735.0V333.9H1739.4V323.1H1742.7V332.1H1744.9V334.6H1747.1V337.4H1748.2V323.2H1749.3V309.4H1750.4V296.7H1751.5V293.0H1763.6V296.7H1764.7V309.4H1765.8V323.2H1766.9V326.5H1768.0V329.0H1769.1V331.6H1770.2V334.3H1771.3V337.0H1772.4V339.7H1773.5V342.6H1774.6V345.5H1775.7V348.0H1777.9V350.6H1779.0V348.0H1782.3V345.6H1786.7V347.3H1787.8V347.5H1790.0V348.0H1791.1V348.3H1794.4V347.5H1797.7V347.1H1801.0V350.6H1807.6V349.3H1810.9V348.0H1814.2V350.6H1817.5V343.0H1819.7V335.7H1823.0V343.2H1828.5V350.3H1830.7V344.6H1832.9V338.0H1835.1V342.0H1837.3V345.0H1839.5V348.0H1840.6V349.0H1843.9V349.1H1847.2V348.0H1850.5V348.9H1852.7V348.0H1854.9V345.6H1858.2V348.0H1860.4V348.4H1863.7V349.4H1867.0V349.9H1868.1V349.4H1870.3V349.2H1873.6V345.2H1876.9V349.6H1880.2V348.9H1883.5V349.0H1886.8V349.3H1889.0V347.9H1892.3V348.0H1893.4V348.4H1896.7V349.0H1900.0V350.6H1901.1V349.7H1903.3V347.9H1906.6V348.5H1909.9V348.6H1913.2V349.4H1917.6V349.6H1919.8V350.6H1923.1V349.9H1926.4V350.2H1929.7V350.6H1933.0V348.2H1936.3V349.4H1939.6V347.9H1942.9V350.6H1945.1V340.8H1947.3V331.8H1952.8V336.8H1956.1V342.1H1959.4V350.6H1962.7V350.3H1966.0V348.8H1969.3V348.6H1972.6V349.1H1974.8V349.4H1975.9V348.6H1979.2V348.4H1982.5V349.4H1985.3V350.6Z" fill="#F5300A"/>
<line x1="1537.00" y1="350.60" x2="1985.30" y2="350.60" stroke="#000" stroke-width="1.5"/>
<path d="M1537.0 419.7V406.1H1538.1V408.9H1539.2V411.7H1540.3V414.4H1543.6V419.7H1548.0V418.2H1552.4V417.6H1556.8V416.9H1561.2V416.8H1564.5V418.4H1566.7V417.0H1570.0V416.0H1575.5V414.6H1577.7V416.7H1579.9V418.2H1583.2V417.8H1586.5V412.9H1587.6V407.2H1594.2V412.9H1595.3V416.5H1596.4V419.3H1599.7V416.3H1603.0V417.8H1606.3V419.4H1609.6V417.9H1612.9V417.2H1616.2V418.0H1623.9V416.8H1627.2V413.2H1632.7V415.0H1637.1V416.5H1639.3V418.9H1642.6V419.7H1649.2V419.0H1652.5V419.4H1655.8V419.7H1660.2V413.6H1661.3V408.6H1667.9V413.6H1669.0V417.7H1672.3V419.7H1675.6V418.3H1678.9V417.5H1682.2V418.3H1685.5V416.6H1688.8V418.0H1692.1V417.2H1697.6V418.3H1700.9V418.4H1702.0V418.9H1705.3V418.5H1707.5V416.1H1713.0V417.7H1715.2V419.4H1718.5V418.9H1721.8V419.7H1725.1V418.6H1726.2V416.4H1731.7V417.6H1735.0V419.7H1738.3V418.7H1739.4V417.2H1741.6V415.8H1743.8V413.9H1746.0V417.2H1748.2V408.2H1749.3V392.0H1750.4V377.9H1751.5V365.1H1752.6V363.8H1763.6V365.1H1764.7V377.9H1765.8V392.0H1766.9V408.2H1768.0V416.1H1772.4V413.0H1774.6V415.1H1777.9V417.0H1780.1V418.6H1781.2V417.5H1784.5V419.3H1787.8V418.0H1791.1V416.1H1794.4V416.5H1796.6V417.9H1798.8V419.2H1799.9V414.3H1803.2V408.2H1808.7V411.6H1810.9V412.3H1813.1V414.5H1815.3V418.8H1817.5V417.5H1819.7V412.9H1820.8V407.2H1825.2V412.9H1826.3V418.6H1827.4V417.1H1830.7V417.7H1832.9V416.4H1837.3V415.9H1840.6V416.2H1841.7V417.8H1845.0V417.9H1847.2V418.1H1850.5V418.6H1852.7V417.4H1854.9V417.5H1857.1V416.2H1862.6V414.3H1865.9V416.3H1869.2V416.9H1870.3V417.1H1873.6V417.9H1876.9V419.3H1880.2V418.7H1884.6V417.8H1889.0V418.7H1892.3V419.4H1893.4V416.8H1896.7V419.6H1900.0V419.7H1903.3V418.9H1904.4V413.7H1908.8V408.0H1913.2V414.2H1916.5V419.2H1917.6V415.9H1923.1V415.1H1927.5V416.9H1929.7V417.3H1933.0V418.7H1936.3V415.8H1939.6V419.7H1942.9V418.6H1946.2V418.8H1949.5V418.2H1950.6V417.8H1952.8V417.2H1956.1V416.1H1960.5V417.6H1963.8V417.7H1964.9V418.0H1966.0V419.7H1969.3V418.3H1970.4V417.8H1972.6V415.9H1975.9V417.3H1979.2V418.9H1982.5V417.6H1985.3V419.7Z" fill="#F5300A"/>
<line x1="1537.00" y1="419.70" x2="1985.30" y2="419.70" stroke="#000" stroke-width="1.5"/>
<path d="M1537.0 490.4V484.6H1541.4V484.0H1543.6V485.7H1544.7V489.6H1546.9V490.2H1550.2V489.3H1553.5V484.8H1557.9V480.2H1562.3V484.9H1564.5V486.2H1566.7V490.4H1570.0V489.4H1573.3V488.3H1576.6V489.8H1579.9V490.4H1583.2V489.6H1586.5V488.6H1589.8V487.9H1593.1V490.4H1595.3V487.4H1596.4V484.9H1604.1V487.4H1605.2V488.1H1606.3V490.2H1609.6V489.3H1612.9V479.9H1618.4V474.0H1621.7V482.1H1625.0V484.3H1628.3V478.9H1631.6V484.0H1634.9V490.4H1636.0V489.3H1638.2V489.1H1642.6V486.8H1645.9V488.0H1649.2V488.2H1654.7V489.1H1655.8V488.8H1659.1V489.4H1662.4V488.1H1664.6V488.0H1665.7V486.8H1669.0V488.0H1670.1V489.1H1673.4V490.4H1675.6V485.1H1678.9V483.3H1682.2V486.9H1685.5V489.9H1688.8V489.2H1695.4V490.4H1698.7V489.0H1702.0V490.4H1703.1V488.3H1708.6V488.1H1710.8V488.8H1713.0V489.5H1715.2V488.4H1718.5V489.9H1719.6V481.3H1725.1V486.1H1727.3V488.0H1730.6V486.7H1735.0V488.1H1738.3V488.6H1740.5V490.2H1741.6V485.5H1742.7V481.5H1749.3V485.5H1750.4V487.6H1751.5V488.7H1754.8V487.3H1757.0V488.9H1759.2V489.4H1761.4V488.2H1766.9V486.3H1770.2V485.6H1773.5V487.1H1776.8V488.3H1779.0V490.4H1781.2V486.9H1784.5V488.8H1785.6V486.0H1787.8V481.0H1792.2V485.5H1794.4V490.4H1797.7V489.5H1801.0V489.1H1804.3V489.6H1807.6V487.2H1810.9V488.6H1814.2V486.3H1818.6V488.0H1820.8V480.8H1824.1V473.3H1827.4V481.8H1831.8V490.4H1834.0V489.4H1840.6V490.4H1843.9V487.9H1847.2V490.4H1850.5V488.7H1852.7V488.5H1856.0V489.4H1858.2V490.4H1861.5V483.1H1862.6V477.1H1869.2V483.1H1870.3V487.9H1873.6V487.4H1876.9V490.4H1880.2V487.6H1883.5V489.3H1886.8V490.2H1887.9V489.8H1890.1V488.5H1893.4V489.4H1895.6V489.7H1896.7V489.6H1900.0V489.5H1903.3V485.8H1904.4V484.9H1911.0V487.0H1913.2V489.9H1916.5V490.4H1917.6V484.0H1918.7V478.8H1924.2V484.0H1925.3V487.9H1926.4V489.8H1929.7V490.4H1930.8V487.4H1933.0V484.9H1942.9V487.4H1945.1V490.4H1946.2V487.6H1949.5V488.0H1952.8V488.7H1957.2V490.0H1959.4V485.3H1962.7V481.2H1967.1V483.2H1969.3V484.7H1971.5V486.5H1973.7V486.6H1975.9V489.5H1982.5V489.2H1985.3V490.4Z" fill="#000000"/>
<line x1="1537.00" y1="490.40" x2="1985.30" y2="490.40" stroke="#000" stroke-width="1.5"/>
<path d="M1618.0 561.4V542.6H1633.2V561.4ZM1624.9 561.4V523.2H1627.4V561.4ZM1735.3 561.4V542.6H1750.5V561.4ZM1740.8 561.4V522.7H1743.1V561.4ZM1804.8 561.4V542.6H1816.7V561.4ZM1807.5 561.4V523.2H1812.2V561.4Z" fill="#F2A814"/>
<line x1="1537.00" y1="561.40" x2="1985.30" y2="561.40" stroke="#000" stroke-width="1.5"/>
<path d="M1584.0 632.0V615.1H1595.9V632.0ZM1586.7 632.0V597.1H1592.3V632.0ZM1815.6 632.0V615.1H1825.5V632.0ZM1816.9 632.0V597.1H1823.3V632.0ZM1974.7 632.0V615.1H1985.2V632.0ZM1980.2 632.0V597.1H1982.7V632.0Z" fill="#F2A814"/>
<line x1="1537.00" y1="632.00" x2="1985.30" y2="632.00" stroke="#000" stroke-width="1.5"/>
<path d="M1566.8 702.8V676.0H1574.3V702.8ZM1580.1 702.8V676.0H1587.8V702.8ZM1638.2 702.8V689.0H1657.3V702.8ZM1644.0 702.8V676.0H1657.3V702.8ZM1647.6 702.8V661.3H1651.7V702.8ZM1714.3 702.8V689.0H1745.8V702.8ZM1719.5 702.8V676.0H1727.8V702.8ZM1720.4 702.8V661.3H1723.7V702.8ZM1729.2 702.8V676.0H1741.7V702.8ZM1733.4 702.8V661.3H1740.3V702.8ZM1732.8 702.8V648.3H1735.6V702.8ZM1759.1 702.8V689.0H1817.8V702.8ZM1759.1 702.8V676.0H1773.5V702.8ZM1763.3 702.8V646.6H1767.4V702.8ZM1774.9 702.8V661.3H1782.4V702.8ZM1778.2 702.8V646.6H1780.7V702.8ZM1786.5 702.8V646.6H1802.6V702.8ZM1786.5 702.8V645.2H1794.3V702.8ZM1802.6 702.8V676.0H1805.3V702.8ZM1807.5 702.8V676.0H1817.8V702.8ZM1810.0 702.8V646.6H1813.6V702.8ZM1813.6 702.8V661.3H1816.4V702.8ZM1823.3 702.8V689.0H1836.6V702.8ZM1824.7 702.8V676.0H1834.4V702.8ZM1826.1 702.8V661.3H1832.4V702.8ZM1827.5 702.8V646.6H1831.1V702.8ZM1842.1 702.8V676.0H1856.5V702.8ZM1848.8 702.8V646.6H1851.0V702.8ZM1868.1 702.8V689.0H1877.8V702.8ZM1870.3 702.8V676.0H1877.8V702.8ZM1912.4 702.8V689.0H1938.4V702.8ZM1913.2 702.8V676.0H1937.3V702.8ZM1916.6 702.8V646.6H1936.2V702.8ZM1922.9 702.8V645.2H1936.2V702.8ZM1963.9 702.8V689.0H1984.3V702.8ZM1965.8 702.8V676.0H1983.8V702.8ZM1975.5 702.8V661.3H1980.2V702.8Z" fill="#F5300A"/>
<line x1="1537.00" y1="702.80" x2="1985.30" y2="702.80" stroke="#000" stroke-width="1.5"/>
<path d="M1554.3 773.6V745.1H1569.3V773.6ZM1558.5 773.6V716.0H1566.8V773.6ZM1609.1 773.6V759.8H1624.1V773.6ZM1613.8 773.6V745.1H1617.2V773.6ZM1669.2 773.6V759.8H1680.0V773.6ZM1670.6 773.6V745.1H1676.7V773.6ZM1699.6 773.6V759.8H1709.9V773.6ZM1702.1 773.6V745.1H1708.5V773.6ZM1720.9 773.6V759.8H1756.9V773.6ZM1720.9 773.6V745.1H1737.5V773.6ZM1728.7 773.6V729.3H1736.1V773.6ZM1731.4 773.6V716.0H1735.3V773.6ZM1742.5 773.6V745.1H1755.5V773.6ZM1746.7 773.6V729.3H1750.5V773.6ZM1770.2 773.6V759.8H1819.2V773.6ZM1770.2 773.6V716.0H1779.0V773.6ZM1779.0 773.6V745.1H1784.0V773.6ZM1784.6 773.6V716.0H1794.3V773.6ZM1794.3 773.6V745.1H1797.0V773.6ZM1802.6 773.6V745.1H1819.2V773.6ZM1807.5 773.6V716.0H1816.4V773.6ZM1816.4 773.6V729.3H1819.2V773.6ZM1826.1 773.6V759.8H1844.6V773.6ZM1830.2 773.6V745.1H1844.6V773.6ZM1834.9 773.6V733.5H1837.7V773.6ZM1847.4 773.6V759.8H1860.7V773.6ZM1852.4 773.6V745.1H1856.5V773.6ZM1862.0 773.6V759.8H1880.0V773.6ZM1864.8 773.6V745.1H1875.9V773.6ZM1866.2 773.6V716.0H1873.9V773.6ZM1884.7 773.6V759.8H1901.6V773.6ZM1886.9 773.6V745.1H1898.0V773.6ZM1888.6 773.6V729.3H1893.3V773.6ZM1906.3 773.6V759.8H1929.8V773.6ZM1907.7 773.6V745.1H1928.5V773.6ZM1909.9 773.6V716.0H1918.8V773.6ZM1932.6 773.6V759.8H1948.4V773.6ZM1934.0 773.6V729.3H1946.4V773.6ZM1937.6 773.6V716.0H1942.8V773.6ZM1950.6 773.6V745.1H1974.9V773.6ZM1953.9 773.6V716.0H1970.8V773.6Z" fill="#F5300A"/>
<line x1="1537.00" y1="773.60" x2="1985.30" y2="773.60" stroke="#000" stroke-width="1.5"/>
<path d="M1559.0 842.8V840.0h2.8V842.8ZM1563.2 842.8V838.6h2.8V842.8ZM1567.9 842.8V835.1h2.8V842.8ZM1572.9 842.8V835.1h2.8V842.8ZM1576.2 842.8V836.7h2.8V842.8ZM1578.4 842.8V836.7h2.8V842.8ZM1582.6 842.8V840.0h2.8V842.8ZM1592.2 842.8V835.9h2.8V842.8ZM1596.9 842.8V831.7h2.8V842.8ZM1608.8 842.8V840.0h2.8V842.8ZM1611.6 842.8V836.7h2.8V842.8ZM1618.5 842.8V841.4h2.8V842.8ZM1638.7 842.8V840.6h2.8V842.8ZM1640.9 842.8V831.7h2.8V842.8ZM1663.4 842.8V838.6h2.8V842.8ZM1671.4 842.8V838.6h2.8V842.8ZM1679.7 842.8V835.1h2.8V842.8ZM1693.8 842.8V827.0h2.8V842.8ZM1699.3 842.8V827.0h2.8V842.8ZM1703.5 842.8V836.7h2.8V842.8ZM1706.0 842.8V833.7h2.8V842.8ZM1709.8 842.8V840.0h2.8V842.8ZM1719.2 842.8V831.7h2.8V842.8ZM1724.5 842.8V836.7h2.8V842.8ZM1727.8 842.8V841.4h2.8V842.8ZM1735.6 842.8V838.6h2.8V842.8ZM1739.2 842.8V835.1h2.8V842.8ZM1746.1 842.8V838.1h2.8V842.8ZM1751.3 842.8V841.4h2.8V842.8ZM1755.5 842.8V836.7h2.8V842.8ZM1759.1 842.8V840.0h2.8V842.8ZM1763.2 842.8V831.7h2.8V842.8ZM1771.3 842.8V824.0h2.8V842.8ZM1776.8 842.8V840.0h2.8V842.8ZM1780.4 842.8V840.0h2.8V842.8ZM1784.5 842.8V840.6h2.8V842.8ZM1802.0 842.8V841.4h2.8V842.8ZM1810.0 842.8V804.6h2.8V842.8ZM1813.0 842.8V838.6h2.8V842.8ZM1815.3 842.8V840.6h2.8V842.8ZM1822.7 842.8V838.6h2.8V842.8ZM1827.4 842.8V831.7h2.8V842.8ZM1825.2 842.8V838.6h2.8V842.8ZM1834.1 842.8V831.7h2.8V842.8ZM1836.3 842.8V840.0h2.8V842.8ZM1843.2 842.8V827.0h2.8V842.8ZM1859.0 842.8V840.0h2.8V842.8ZM1864.8 842.8V841.4h2.8V842.8ZM1868.4 842.8V840.0h2.8V842.8ZM1900.2 842.8V838.6h2.8V842.8ZM1904.1 842.8V835.1h2.8V842.8ZM1915.2 842.8V822.0h2.8V842.8ZM1924.6 842.8V830.3h2.8V842.8ZM1926.5 842.8V835.1h2.8V842.8ZM1929.8 842.8V830.3h2.8V842.8ZM1932.6 842.8V835.1h2.8V842.8ZM1934.8 842.8V835.1h2.8V842.8ZM1948.4 842.8V833.7h2.8V842.8ZM1952.2 842.8V837.3h2.8V842.8ZM1958.9 842.8V827.0h2.8V842.8Z" fill="#757575"/>
<line x1="1537.00" y1="842.80" x2="1985.30" y2="842.80" stroke="#000" stroke-width="1.6"/>
<path d="M1544.1 913.6V899.8h2.8V913.6ZM1549.1 913.6V901.1h2.8V913.6ZM1552.9 913.6V908.9h2.8V913.6ZM1557.1 913.6V908.9h2.8V913.6ZM1559.9 913.6V906.1h2.8V913.6ZM1564.0 913.6V910.8h2.8V913.6ZM1567.9 913.6V912.2h2.8V913.6ZM1574.3 913.6V912.2h2.8V913.6ZM1577.6 913.6V908.9h2.8V913.6ZM1582.3 913.6V908.9h2.8V913.6ZM1592.2 913.6V908.9h2.8V913.6ZM1596.9 913.6V904.5h2.8V913.6ZM1606.9 913.6V910.8h2.8V913.6ZM1609.7 913.6V910.8h2.8V913.6ZM1618.0 913.6V904.5h2.8V913.6ZM1619.9 913.6V911.4h2.8V913.6ZM1663.4 913.6V899.8h2.8V913.6ZM1671.4 913.6V899.8h2.8V913.6ZM1679.7 913.6V910.8h2.8V913.6ZM1693.0 913.6V910.8h2.8V913.6ZM1699.6 913.6V907.5h2.8V913.6ZM1719.2 913.6V908.9h2.8V913.6ZM1722.3 913.6V912.2h2.8V913.6ZM1729.2 913.6V912.2h2.8V913.6ZM1735.6 913.6V907.5h2.8V913.6ZM1739.4 913.6V907.5h2.8V913.6ZM1746.1 913.6V907.5h2.8V913.6ZM1755.5 913.6V910.8h2.8V913.6ZM1759.1 913.6V907.5h2.8V913.6ZM1763.2 913.6V894.8h2.8V913.6ZM1771.3 913.6V892.8h2.8V913.6ZM1776.8 913.6V907.5h2.8V913.6ZM1780.4 913.6V908.9h2.8V913.6ZM1787.3 913.6V912.2h2.8V913.6ZM1792.3 913.6V908.9h2.8V913.6ZM1802.0 913.6V912.2h2.8V913.6ZM1810.0 913.6V877.1h2.8V913.6ZM1811.4 913.6V910.8h2.8V913.6ZM1817.8 913.6V912.2h2.8V913.6ZM1821.9 913.6V912.2h2.8V913.6ZM1833.8 913.6V910.8h2.8V913.6ZM1859.0 913.6V912.2h2.8V913.6ZM1864.8 913.6V906.1h2.8V913.6ZM1868.4 913.6V906.1h2.8V913.6ZM1888.3 913.6V892.8h2.8V913.6ZM1896.6 913.6V910.8h2.8V913.6ZM1900.2 913.6V910.8h2.8V913.6ZM1904.1 913.6V907.5h2.8V913.6ZM1909.6 913.6V910.8h2.8V913.6ZM1915.2 913.6V906.1h2.8V913.6ZM1924.6 913.6V908.9h2.8V913.6ZM1929.3 913.6V908.9h2.8V913.6ZM1958.9 913.6V906.1h2.8V913.6ZM1976.0 913.6V910.8h2.8V913.6Z" fill="#757575"/>
<line x1="1537.00" y1="913.60" x2="1985.30" y2="913.60" stroke="#000" stroke-width="1.6"/>
<path d="M1578.4 984.4V980.2h2.8V984.4ZM1592.8 984.4V977.5h2.8V984.4ZM1611.6 984.4V982.2h2.8V984.4ZM1617.1 984.4V983.0h2.8V984.4ZM1639.3 984.4V983.0h2.8V984.4ZM1671.4 984.4V982.2h2.8V984.4ZM1704.6 984.4V982.2h2.8V984.4ZM1744.4 984.4V980.2h2.8V984.4ZM1759.6 984.4V973.3h2.8V984.4ZM1771.3 984.4V973.9h2.8V984.4ZM1776.8 984.4V981.6h2.8V984.4ZM1780.4 984.4V981.6h2.8V984.4ZM1788.7 984.4V981.6h2.8V984.4ZM1802.0 984.4V981.1h2.8V984.4ZM1810.0 984.4V951.2h2.8V984.4ZM1812.2 984.4V976.1h2.8V984.4ZM1817.8 984.4V982.2h2.8V984.4ZM1834.1 984.4V982.2h2.8V984.4ZM1843.2 984.4V980.2h2.8V984.4ZM1859.0 984.4V981.1h2.8V984.4ZM1888.3 984.4V976.9h2.8V984.4ZM1900.2 984.4V982.2h2.8V984.4ZM1909.6 984.4V976.9h2.8V984.4ZM1915.2 984.4V981.6h2.8V984.4ZM1924.6 984.4V980.2h2.8V984.4ZM1929.8 984.4V976.9h2.8V984.4ZM1934.8 984.4V980.2h2.8V984.4ZM1948.4 984.4V981.6h2.8V984.4ZM1952.2 984.4V976.9h2.8V984.4ZM1958.9 984.4V980.2h2.8V984.4Z" fill="#C6D56E" fill-opacity="0.3"/>
<line x1="1537.00" y1="984.40" x2="1985.30" y2="984.40" stroke="#000" stroke-width="1.6"/>
<path d="M1542.4 1055.0V1051.7h2.8V1055.0ZM1549.1 1055.0V1045.9h2.8V1055.0ZM1557.1 1055.0V1043.9h2.8V1055.0ZM1578.4 1055.0V1051.7h2.8V1055.0ZM1592.8 1055.0V1052.8h2.8V1055.0ZM1608.8 1055.0V1052.8h2.8V1055.0ZM1638.7 1055.0V1052.8h2.8V1055.0ZM1663.4 1055.0V1050.8h2.8V1055.0ZM1679.7 1055.0V1052.8h2.8V1055.0ZM1699.6 1055.0V1048.9h2.8V1055.0ZM1719.2 1055.0V1050.3h2.8V1055.0ZM1738.9 1055.0V1051.7h2.8V1055.0ZM1763.2 1055.0V1044.5h2.8V1055.0ZM1771.3 1055.0V1043.9h2.8V1055.0ZM1776.8 1055.0V1050.8h2.8V1055.0ZM1792.3 1055.0V1048.9h2.8V1055.0ZM1810.0 1055.0V1016.3h2.8V1055.0ZM1828.3 1055.0V1052.8h2.8V1055.0ZM1836.3 1055.0V1050.8h2.8V1055.0ZM1843.2 1055.0V1050.8h2.8V1055.0ZM1866.7 1055.0V1050.8h2.8V1055.0ZM1888.3 1055.0V1041.2h2.8V1055.0ZM1898.3 1055.0V1045.9h2.8V1055.0ZM1902.1 1055.0V1047.5h2.8V1055.0ZM1904.9 1055.0V1050.3h2.8V1055.0ZM1915.2 1055.0V1040.6h2.8V1055.0ZM1924.6 1055.0V1048.9h2.8V1055.0ZM1928.4 1055.0V1050.8h2.8V1055.0ZM1932.6 1055.0V1052.2h2.8V1055.0ZM1952.2 1055.0V1048.9h2.8V1055.0ZM1958.9 1055.0V1045.9h2.8V1055.0ZM1976.0 1055.0V1052.8h2.8V1055.0Z" fill="#C6D56E" fill-opacity="0.3"/>
<line x1="1537.00" y1="1055.00" x2="1985.30" y2="1055.00" stroke="#000" stroke-width="1.6"/>
<path d="M1544.1 1125.8V1102.3h2.8V1125.8ZM1549.1 1125.8V1100.3h2.8V1125.8ZM1552.9 1125.8V1112.0h2.8V1125.8ZM1557.1 1125.8V1116.7h2.8V1125.8ZM1559.9 1125.8V1123.0h2.8V1125.8ZM1564.0 1125.8V1118.3h2.8V1125.8ZM1567.9 1125.8V1120.3h2.8V1125.8ZM1574.3 1125.8V1123.0h2.8V1125.8ZM1576.2 1125.8V1115.3h2.8V1125.8ZM1578.4 1125.8V1118.3h2.8V1125.8ZM1582.3 1125.8V1102.3h2.8V1125.8ZM1592.2 1125.8V1108.6h2.8V1125.8ZM1596.9 1125.8V1102.3h2.8V1125.8ZM1606.9 1125.8V1120.3h2.8V1125.8ZM1617.1 1125.8V1113.3h2.8V1125.8ZM1619.4 1125.8V1120.3h2.8V1125.8ZM1638.7 1125.8V1110.0h2.8V1125.8ZM1640.9 1125.8V1113.3h2.8V1125.8ZM1663.4 1125.8V1105.0h2.8V1125.8ZM1671.4 1125.8V1115.3h2.8V1125.8ZM1679.7 1125.8V1115.3h2.8V1125.8ZM1693.0 1125.8V1121.6h2.8V1125.8ZM1699.6 1125.8V1115.3h2.8V1125.8ZM1703.5 1125.8V1123.0h2.8V1125.8ZM1705.1 1125.8V1123.0h2.8V1125.8ZM1709.8 1125.8V1121.6h2.8V1125.8ZM1719.2 1125.8V1103.7h2.8V1125.8ZM1722.3 1125.8V1123.0h2.8V1125.8ZM1724.5 1125.8V1116.7h2.8V1125.8ZM1729.2 1125.8V1116.7h2.8V1125.8ZM1735.6 1125.8V1107.0h2.8V1125.8ZM1737.5 1125.8V1113.3h2.8V1125.8ZM1739.4 1125.8V1103.7h2.8V1125.8ZM1741.7 1125.8V1113.3h2.8V1125.8ZM1743.3 1125.8V1107.0h2.8V1125.8ZM1746.1 1125.8V1092.6h2.8V1125.8ZM1751.3 1125.8V1087.6h2.8V1125.8ZM1755.5 1125.8V1116.7h2.8V1125.8ZM1759.1 1125.8V1100.3h2.8V1125.8ZM1764.6 1125.8V1090.9h2.8V1125.8ZM1771.3 1125.8V1105.0h2.8V1125.8ZM1776.8 1125.8V1112.0h2.8V1125.8ZM1778.5 1125.8V1118.3h2.8V1125.8ZM1780.4 1125.8V1120.3h2.8V1125.8ZM1784.5 1125.8V1118.3h2.8V1125.8ZM1787.3 1125.8V1115.3h2.8V1125.8ZM1788.7 1125.8V1116.7h2.8V1125.8ZM1792.3 1125.8V1118.3h2.8V1125.8ZM1802.0 1125.8V1120.3h2.8V1125.8ZM1810.0 1125.8V1099.0h2.8V1125.8ZM1811.4 1125.8V1116.7h2.8V1125.8ZM1817.8 1125.8V1123.0h2.8V1125.8ZM1821.9 1125.8V1115.3h2.8V1125.8ZM1823.6 1125.8V1118.3h2.8V1125.8ZM1827.4 1125.8V1105.0h2.8V1125.8ZM1825.2 1125.8V1115.3h2.8V1125.8ZM1833.8 1125.8V1120.3h2.8V1125.8ZM1836.3 1125.8V1108.6h2.8V1125.8ZM1843.2 1125.8V1115.3h2.8V1125.8ZM1859.0 1125.8V1112.0h2.8V1125.8ZM1864.8 1125.8V1120.3h2.8V1125.8ZM1866.7 1125.8V1118.3h2.8V1125.8ZM1868.9 1125.8V1118.3h2.8V1125.8ZM1888.3 1125.8V1100.3h2.8V1125.8ZM1896.6 1125.8V1120.3h2.8V1125.8ZM1900.2 1125.8V1102.3h2.8V1125.8ZM1904.1 1125.8V1100.3h2.8V1125.8ZM1909.6 1125.8V1123.0h2.8V1125.8ZM1915.2 1125.8V1113.3h2.8V1125.8ZM1924.6 1125.8V1123.0h2.8V1125.8ZM1929.8 1125.8V1118.3h2.8V1125.8ZM1932.6 1125.8V1116.7h2.8V1125.8ZM1934.8 1125.8V1121.6h2.8V1125.8ZM1952.2 1125.8V1118.3h2.8V1125.8ZM1958.9 1125.8V1107.0h2.8V1125.8ZM1976.0 1125.8V1116.7h2.8V1125.8Z" fill="#F5300A"/>
<line x1="1537.00" y1="1125.80" x2="1985.30" y2="1125.80" stroke="#000" stroke-width="1.6"/>
<path d="M1544.1 1196.7V1192.0h2.8V1196.7ZM1549.1 1196.7V1190.6h2.8V1196.7ZM1552.9 1196.7V1193.9h2.8V1196.7ZM1557.1 1196.7V1179.5h2.8V1196.7ZM1559.9 1196.7V1195.3h2.8V1196.7ZM1564.0 1196.7V1193.9h2.8V1196.7ZM1567.9 1196.7V1192.0h2.8V1196.7ZM1574.3 1196.7V1195.3h2.8V1196.7ZM1576.2 1196.7V1187.6h2.8V1196.7ZM1578.4 1196.7V1191.2h2.8V1196.7ZM1582.3 1196.7V1193.9h2.8V1196.7ZM1592.2 1196.7V1193.9h2.8V1196.7ZM1596.9 1196.7V1190.6h2.8V1196.7ZM1606.9 1196.7V1195.3h2.8V1196.7ZM1611.6 1196.7V1190.6h2.8V1196.7ZM1617.1 1196.7V1191.2h2.8V1196.7ZM1619.4 1196.7V1191.2h2.8V1196.7ZM1638.7 1196.7V1185.6h2.8V1196.7ZM1640.9 1196.7V1179.5h2.8V1196.7ZM1663.4 1196.7V1189.2h2.8V1196.7ZM1671.4 1196.7V1195.3h2.8V1196.7ZM1679.7 1196.7V1189.2h2.8V1196.7ZM1693.0 1196.7V1192.5h2.8V1196.7ZM1694.3 1196.7V1187.6h2.8V1196.7ZM1699.6 1196.7V1175.9h2.8V1196.7ZM1703.5 1196.7V1193.9h2.8V1196.7ZM1705.1 1196.7V1192.5h2.8V1196.7ZM1709.8 1196.7V1189.2h2.8V1196.7ZM1719.2 1196.7V1180.9h2.8V1196.7ZM1724.5 1196.7V1185.6h2.8V1196.7ZM1727.8 1196.7V1191.2h2.8V1196.7ZM1729.2 1196.7V1189.2h2.8V1196.7ZM1735.6 1196.7V1172.4h2.8V1196.7ZM1737.5 1196.7V1171.2h2.8V1196.7ZM1739.4 1196.7V1174.6h2.8V1196.7ZM1741.7 1196.7V1184.2h2.8V1196.7ZM1743.3 1196.7V1182.9h2.8V1196.7ZM1746.1 1196.7V1168.2h2.8V1196.7ZM1751.3 1196.7V1161.8h2.8V1196.7ZM1755.5 1196.7V1189.2h2.8V1196.7ZM1759.1 1196.7V1147.4h2.8V1196.7ZM1764.6 1196.7V1141.4h2.8V1196.7ZM1771.3 1196.7V1179.5h2.8V1196.7ZM1776.8 1196.7V1184.2h2.8V1196.7ZM1780.4 1196.7V1191.2h2.8V1196.7ZM1783.2 1196.7V1185.6h2.8V1196.7ZM1785.9 1196.7V1192.5h2.8V1196.7ZM1788.7 1196.7V1193.9h2.8V1196.7ZM1792.3 1196.7V1193.9h2.8V1196.7ZM1802.0 1196.7V1190.6h2.8V1196.7ZM1810.0 1196.7V1166.8h2.8V1196.7ZM1811.4 1196.7V1192.0h2.8V1196.7ZM1817.8 1196.7V1191.2h2.8V1196.7ZM1827.4 1196.7V1192.0h2.8V1196.7ZM1828.8 1196.7V1190.6h2.8V1196.7ZM1833.8 1196.7V1187.6h2.8V1196.7ZM1836.3 1196.7V1187.6h2.8V1196.7ZM1843.2 1196.7V1189.2h2.8V1196.7ZM1859.0 1196.7V1182.9h2.8V1196.7ZM1864.8 1196.7V1191.2h2.8V1196.7ZM1866.7 1196.7V1189.2h2.8V1196.7ZM1868.9 1196.7V1182.9h2.8V1196.7ZM1888.3 1196.7V1182.9h2.8V1196.7ZM1896.6 1196.7V1187.6h2.8V1196.7ZM1898.3 1196.7V1184.2h2.8V1196.7ZM1900.2 1196.7V1160.2h2.8V1196.7ZM1904.1 1196.7V1164.9h2.8V1196.7ZM1909.6 1196.7V1185.6h2.8V1196.7ZM1915.2 1196.7V1187.6h2.8V1196.7ZM1924.6 1196.7V1185.6h2.8V1196.7ZM1929.8 1196.7V1163.5h2.8V1196.7ZM1932.6 1196.7V1185.6h2.8V1196.7ZM1934.8 1196.7V1182.9h2.8V1196.7ZM1948.4 1196.7V1185.6h2.8V1196.7ZM1952.2 1196.7V1190.6h2.8V1196.7ZM1958.9 1196.7V1182.9h2.8V1196.7ZM1976.0 1196.7V1185.6h2.8V1196.7Z" fill="#F5300A"/>
<line x1="1537.00" y1="1196.70" x2="1985.30" y2="1196.70" stroke="#000" stroke-width="1.6"/>
<path d="M1544.1 1265.7V1222.8h2.8V1265.7ZM1549.1 1265.7V1216.4h2.8V1265.7ZM1552.9 1265.7V1220.9h2.8V1265.7ZM1557.1 1265.7V1225.0h2.8V1265.7ZM1559.9 1265.7V1214.5h2.8V1265.7ZM1564.0 1265.7V1215.9h2.8V1265.7ZM1567.9 1265.7V1217.3h2.8V1265.7ZM1572.9 1265.7V1222.8h2.8V1265.7ZM1574.3 1265.7V1221.4h2.8V1265.7ZM1576.2 1265.7V1209.8h2.8V1265.7ZM1578.4 1265.7V1218.7h2.8V1265.7ZM1582.3 1265.7V1209.8h2.8V1265.7ZM1592.2 1265.7V1221.4h2.8V1265.7ZM1593.6 1265.7V1214.5h2.8V1265.7ZM1596.9 1265.7V1220.0h2.8V1265.7ZM1606.9 1265.7V1227.0h2.8V1265.7ZM1608.8 1265.7V1222.8h2.8V1265.7ZM1610.8 1265.7V1224.2h2.8V1265.7ZM1617.1 1265.7V1213.1h2.8V1265.7ZM1619.4 1265.7V1213.1h2.8V1265.7ZM1638.7 1265.7V1216.4h2.8V1265.7ZM1640.9 1265.7V1220.0h2.8V1265.7ZM1663.4 1265.7V1221.4h2.8V1265.7ZM1671.4 1265.7V1220.0h2.8V1265.7ZM1679.7 1265.7V1216.4h2.8V1265.7ZM1693.0 1265.7V1218.1h2.8V1265.7ZM1694.3 1265.7V1221.4h2.8V1265.7ZM1699.6 1265.7V1209.8h2.8V1265.7ZM1703.5 1265.7V1209.8h2.8V1265.7ZM1705.1 1265.7V1209.8h2.8V1265.7ZM1709.8 1265.7V1215.3h2.8V1265.7ZM1719.2 1265.7V1209.8h2.8V1265.7ZM1722.3 1265.7V1220.0h2.8V1265.7ZM1727.8 1265.7V1209.8h2.8V1265.7ZM1729.2 1265.7V1218.7h2.8V1265.7ZM1731.4 1265.7V1222.8h2.8V1265.7ZM1735.6 1265.7V1227.0h2.8V1265.7ZM1737.5 1265.7V1227.0h2.8V1265.7ZM1739.4 1265.7V1211.7h2.8V1265.7ZM1741.7 1265.7V1217.3h2.8V1265.7ZM1743.3 1265.7V1220.0h2.8V1265.7ZM1746.1 1265.7V1224.2h2.8V1265.7ZM1751.3 1265.7V1217.3h2.8V1265.7ZM1755.5 1265.7V1220.0h2.8V1265.7ZM1759.1 1265.7V1224.2h2.8V1265.7ZM1763.2 1265.7V1229.7h2.8V1265.7ZM1764.6 1265.7V1222.8h2.8V1265.7ZM1771.3 1265.7V1227.0h2.8V1265.7ZM1776.8 1265.7V1209.8h2.8V1265.7ZM1778.5 1265.7V1220.0h2.8V1265.7ZM1780.4 1265.7V1221.4h2.8V1265.7ZM1784.5 1265.7V1213.1h2.8V1265.7ZM1787.3 1265.7V1213.1h2.8V1265.7ZM1788.7 1265.7V1220.0h2.8V1265.7ZM1792.3 1265.7V1216.4h2.8V1265.7ZM1802.0 1265.7V1218.7h2.8V1265.7ZM1810.0 1265.7V1213.7h2.8V1265.7ZM1811.4 1265.7V1221.4h2.8V1265.7ZM1813.6 1265.7V1224.2h2.8V1265.7ZM1817.8 1265.7V1216.4h2.8V1265.7ZM1821.9 1265.7V1218.7h2.8V1265.7ZM1823.6 1265.7V1224.2h2.8V1265.7ZM1827.4 1265.7V1218.7h2.8V1265.7ZM1833.8 1265.7V1221.4h2.8V1265.7ZM1836.3 1265.7V1217.3h2.8V1265.7ZM1843.2 1265.7V1209.8h2.8V1265.7ZM1859.0 1265.7V1218.7h2.8V1265.7ZM1864.8 1265.7V1215.3h2.8V1265.7ZM1866.7 1265.7V1218.1h2.8V1265.7ZM1868.9 1265.7V1220.0h2.8V1265.7ZM1888.3 1265.7V1209.8h2.8V1265.7ZM1896.6 1265.7V1224.2h2.8V1265.7ZM1898.3 1265.7V1218.1h2.8V1265.7ZM1900.2 1265.7V1220.0h2.8V1265.7ZM1904.1 1265.7V1227.0h2.8V1265.7ZM1909.6 1265.7V1215.3h2.8V1265.7ZM1915.2 1265.7V1221.4h2.8V1265.7ZM1924.6 1265.7V1217.3h2.8V1265.7ZM1926.5 1265.7V1227.0h2.8V1265.7ZM1929.8 1265.7V1221.4h2.8V1265.7ZM1932.6 1265.7V1221.4h2.8V1265.7ZM1934.8 1265.7V1213.1h2.8V1265.7ZM1948.4 1265.7V1227.0h2.8V1265.7ZM1952.2 1265.7V1216.4h2.8V1265.7ZM1958.9 1265.7V1222.8h2.8V1265.7ZM1976.0 1265.7V1227.5h2.8V1265.7Z" fill="#757575"/>
<line x1="1537.00" y1="1265.70" x2="1985.30" y2="1265.70" stroke="#000" stroke-width="1.6"/>
<path d="M1544.1 1336.6V1293.7h2.8V1336.6ZM1549.1 1336.6V1289.6h2.8V1336.6ZM1552.9 1336.6V1286.2h2.8V1336.6ZM1557.1 1336.6V1287.3h2.8V1336.6ZM1559.9 1336.6V1289.0h2.8V1336.6ZM1564.0 1336.6V1286.2h2.8V1336.6ZM1567.9 1336.6V1293.7h2.8V1336.6ZM1572.9 1336.6V1298.4h2.8V1336.6ZM1574.3 1336.6V1297.9h2.8V1336.6ZM1576.2 1336.6V1284.0h2.8V1336.6ZM1578.4 1336.6V1285.4h2.8V1336.6ZM1582.3 1336.6V1285.4h2.8V1336.6ZM1592.2 1336.6V1284.0h2.8V1336.6ZM1593.6 1336.6V1282.6h2.8V1336.6ZM1596.9 1336.6V1284.0h2.8V1336.6ZM1606.9 1336.6V1290.9h2.8V1336.6ZM1608.8 1336.6V1292.3h2.8V1336.6ZM1610.8 1336.6V1290.9h2.8V1336.6ZM1617.1 1336.6V1279.0h2.8V1336.6ZM1619.4 1336.6V1286.2h2.8V1336.6ZM1638.7 1336.6V1290.9h2.8V1336.6ZM1640.9 1336.6V1284.0h2.8V1336.6ZM1663.4 1336.6V1285.4h2.8V1336.6ZM1671.4 1336.6V1285.4h2.8V1336.6ZM1679.7 1336.6V1279.0h2.8V1336.6ZM1693.0 1336.6V1282.6h2.8V1336.6ZM1694.3 1336.6V1282.6h2.8V1336.6ZM1699.6 1336.6V1288.2h2.8V1336.6ZM1703.5 1336.6V1300.6h2.8V1336.6ZM1705.1 1336.6V1296.5h2.8V1336.6ZM1709.8 1336.6V1288.2h2.8V1336.6ZM1719.2 1336.6V1284.0h2.8V1336.6ZM1722.3 1336.6V1286.2h2.8V1336.6ZM1724.5 1336.6V1285.4h2.8V1336.6ZM1727.8 1336.6V1284.0h2.8V1336.6ZM1729.2 1336.6V1297.9h2.8V1336.6ZM1731.4 1336.6V1279.0h2.8V1336.6ZM1743.3 1336.6V1280.7h2.8V1336.6ZM1746.1 1336.6V1279.0h2.8V1336.6ZM1751.3 1336.6V1285.4h2.8V1336.6ZM1755.5 1336.6V1292.3h2.8V1336.6ZM1759.1 1336.6V1286.2h2.8V1336.6ZM1763.2 1336.6V1306.2h2.8V1336.6ZM1764.6 1336.6V1290.9h2.8V1336.6ZM1771.3 1336.6V1298.4h2.8V1336.6ZM1776.8 1336.6V1282.6h2.8V1336.6ZM1778.5 1336.6V1289.6h2.8V1336.6ZM1780.4 1336.6V1292.3h2.8V1336.6ZM1784.5 1336.6V1279.0h2.8V1336.6ZM1787.3 1336.6V1282.6h2.8V1336.6ZM1788.7 1336.6V1284.0h2.8V1336.6ZM1792.3 1336.6V1285.4h2.8V1336.6ZM1802.0 1336.6V1285.4h2.8V1336.6ZM1810.0 1336.6V1299.2h2.8V1336.6ZM1811.4 1336.6V1279.0h2.8V1336.6ZM1813.6 1336.6V1292.3h2.8V1336.6ZM1815.8 1336.6V1284.0h2.8V1336.6ZM1817.8 1336.6V1284.0h2.8V1336.6ZM1821.9 1336.6V1292.3h2.8V1336.6ZM1824.7 1336.6V1279.0h2.8V1336.6ZM1827.4 1336.6V1286.2h2.8V1336.6ZM1833.8 1336.6V1290.9h2.8V1336.6ZM1836.3 1336.6V1292.3h2.8V1336.6ZM1843.2 1336.6V1287.3h2.8V1336.6ZM1859.0 1336.6V1284.0h2.8V1336.6ZM1864.8 1336.6V1285.4h2.8V1336.6ZM1866.7 1336.6V1286.2h2.8V1336.6ZM1868.9 1336.6V1290.9h2.8V1336.6ZM1888.3 1336.6V1279.0h2.8V1336.6ZM1896.6 1336.6V1285.4h2.8V1336.6ZM1898.3 1336.6V1284.0h2.8V1336.6ZM1900.2 1336.6V1293.7h2.8V1336.6ZM1904.1 1336.6V1292.3h2.8V1336.6ZM1909.6 1336.6V1287.3h2.8V1336.6ZM1915.2 1336.6V1284.0h2.8V1336.6ZM1924.6 1336.6V1297.9h2.8V1336.6ZM1926.5 1336.6V1286.2h2.8V1336.6ZM1929.8 1336.6V1279.0h2.8V1336.6ZM1932.6 1336.6V1282.6h2.8V1336.6ZM1934.8 1336.6V1287.3h2.8V1336.6ZM1948.4 1336.6V1289.6h2.8V1336.6ZM1952.2 1336.6V1285.4h2.8V1336.6ZM1958.9 1336.6V1308.1h2.8V1336.6ZM1976.0 1336.6V1296.5h2.8V1336.6Z" fill="#757575"/>
<line x1="1537.00" y1="1336.60" x2="1985.30" y2="1336.60" stroke="#000" stroke-width="1.6"/>
<path d="M1544.1 1407.5V1372.6h2.8V1407.5ZM1549.1 1407.5V1356.3h2.8V1407.5ZM1552.9 1407.5V1366.0h2.8V1407.5ZM1557.1 1407.5V1364.6h2.8V1407.5ZM1559.9 1407.5V1354.9h2.8V1407.5ZM1564.0 1407.5V1357.1h2.8V1407.5ZM1567.9 1407.5V1359.9h2.8V1407.5ZM1572.9 1407.5V1353.5h2.8V1407.5ZM1574.3 1407.5V1356.3h2.8V1407.5ZM1576.2 1407.5V1356.3h2.8V1407.5ZM1578.4 1407.5V1357.1h2.8V1407.5ZM1582.3 1407.5V1364.6h2.8V1407.5ZM1592.2 1407.5V1349.9h2.8V1407.5ZM1593.6 1407.5V1349.9h2.8V1407.5ZM1596.9 1407.5V1349.9h2.8V1407.5ZM1606.9 1407.5V1356.3h2.8V1407.5ZM1608.8 1407.5V1349.9h2.8V1407.5ZM1610.8 1407.5V1357.1h2.8V1407.5ZM1617.1 1407.5V1353.5h2.8V1407.5ZM1619.4 1407.5V1354.9h2.8V1407.5ZM1638.7 1407.5V1359.9h2.8V1407.5ZM1640.9 1407.5V1353.5h2.8V1407.5ZM1663.4 1407.5V1364.6h2.8V1407.5ZM1671.4 1407.5V1358.2h2.8V1407.5ZM1679.7 1407.5V1358.2h2.8V1407.5ZM1693.0 1407.5V1354.9h2.8V1407.5ZM1694.3 1407.5V1353.5h2.8V1407.5ZM1699.6 1407.5V1349.9h2.8V1407.5ZM1703.5 1407.5V1363.2h2.8V1407.5ZM1705.1 1407.5V1358.2h2.8V1407.5ZM1709.8 1407.5V1349.9h2.8V1407.5ZM1719.2 1407.5V1349.9h2.8V1407.5ZM1746.1 1407.5V1349.9h2.8V1407.5ZM1751.3 1407.5V1369.3h2.8V1407.5ZM1755.5 1407.5V1369.3h2.8V1407.5ZM1759.1 1407.5V1359.9h2.8V1407.5ZM1763.2 1407.5V1356.3h2.8V1407.5ZM1764.6 1407.5V1356.3h2.8V1407.5ZM1771.3 1407.5V1358.2h2.8V1407.5ZM1776.8 1407.5V1353.5h2.8V1407.5ZM1778.5 1407.5V1353.5h2.8V1407.5ZM1780.4 1407.5V1353.5h2.8V1407.5ZM1784.5 1407.5V1349.9h2.8V1407.5ZM1787.3 1407.5V1349.9h2.8V1407.5ZM1788.7 1407.5V1349.9h2.8V1407.5ZM1792.3 1407.5V1359.9h2.8V1407.5ZM1802.0 1407.5V1353.5h2.8V1407.5ZM1810.0 1407.5V1378.4h2.8V1407.5ZM1811.4 1407.5V1349.9h2.8V1407.5ZM1813.6 1407.5V1353.5h2.8V1407.5ZM1817.8 1407.5V1349.9h2.8V1407.5ZM1821.9 1407.5V1360.5h2.8V1407.5ZM1823.6 1407.5V1360.5h2.8V1407.5ZM1825.2 1407.5V1360.5h2.8V1407.5ZM1827.4 1407.5V1356.3h2.8V1407.5ZM1833.8 1407.5V1371.5h2.8V1407.5ZM1836.3 1407.5V1361.8h2.8V1407.5ZM1843.2 1407.5V1359.9h2.8V1407.5ZM1859.0 1407.5V1358.2h2.8V1407.5ZM1864.8 1407.5V1360.5h2.8V1407.5ZM1866.7 1407.5V1359.9h2.8V1407.5ZM1868.9 1407.5V1353.5h2.8V1407.5ZM1888.3 1407.5V1349.9h2.8V1407.5ZM1896.6 1407.5V1349.9h2.8V1407.5ZM1898.3 1407.5V1353.5h2.8V1407.5ZM1900.2 1407.5V1379.0h2.8V1407.5ZM1904.1 1407.5V1364.6h2.8V1407.5ZM1909.6 1407.5V1358.2h2.8V1407.5ZM1915.2 1407.5V1364.6h2.8V1407.5ZM1924.6 1407.5V1367.4h2.8V1407.5ZM1926.5 1407.5V1359.9h2.8V1407.5ZM1929.8 1407.5V1349.9h2.8V1407.5ZM1932.6 1407.5V1359.9h2.8V1407.5ZM1934.8 1407.5V1359.9h2.8V1407.5ZM1948.4 1407.5V1354.9h2.8V1407.5ZM1952.2 1407.5V1349.9h2.8V1407.5ZM1958.9 1407.5V1379.0h2.8V1407.5ZM1976.0 1407.5V1359.9h2.8V1407.5Z" fill="#8DC21F"/>
<line x1="1537.00" y1="1407.50" x2="1985.30" y2="1407.50" stroke="#000" stroke-width="1.6"/>
<path d="M1544.1 1478.2V1445.0h2.8V1478.2ZM1549.1 1478.2V1428.9h2.8V1478.2ZM1552.9 1478.2V1420.6h2.8V1478.2ZM1557.1 1478.2V1436.7h2.8V1478.2ZM1559.9 1478.2V1427.8h2.8V1478.2ZM1564.0 1478.2V1438.1h2.8V1478.2ZM1567.9 1478.2V1435.3h2.8V1478.2ZM1572.9 1478.2V1436.7h2.8V1478.2ZM1574.3 1478.2V1432.5h2.8V1478.2ZM1576.2 1478.2V1420.6h2.8V1478.2ZM1578.4 1478.2V1424.2h2.8V1478.2ZM1582.3 1478.2V1425.6h2.8V1478.2ZM1592.2 1478.2V1420.6h2.8V1478.2ZM1593.6 1478.2V1431.2h2.8V1478.2ZM1596.9 1478.2V1425.6h2.8V1478.2ZM1606.9 1478.2V1431.2h2.8V1478.2ZM1608.8 1478.2V1420.6h2.8V1478.2ZM1610.8 1478.2V1428.9h2.8V1478.2ZM1617.1 1478.2V1428.9h2.8V1478.2ZM1619.4 1478.2V1425.6h2.8V1478.2ZM1638.7 1478.2V1433.9h2.8V1478.2ZM1640.9 1478.2V1430.6h2.8V1478.2ZM1663.4 1478.2V1433.9h2.8V1478.2ZM1671.4 1478.2V1435.3h2.8V1478.2ZM1679.7 1478.2V1432.5h2.8V1478.2ZM1693.0 1478.2V1425.6h2.8V1478.2ZM1694.3 1478.2V1432.5h2.8V1478.2ZM1699.6 1478.2V1428.9h2.8V1478.2ZM1703.5 1478.2V1427.8h2.8V1478.2ZM1705.1 1478.2V1425.6h2.8V1478.2ZM1709.8 1478.2V1430.6h2.8V1478.2ZM1719.2 1478.2V1420.6h2.8V1478.2ZM1722.3 1478.2V1430.6h2.8V1478.2ZM1724.5 1478.2V1428.9h2.8V1478.2ZM1727.8 1478.2V1420.6h2.8V1478.2ZM1729.2 1478.2V1436.7h2.8V1478.2ZM1735.6 1478.2V1446.4h2.8V1478.2ZM1737.5 1478.2V1445.0h2.8V1478.2ZM1739.4 1478.2V1435.3h2.8V1478.2ZM1741.7 1478.2V1432.5h2.8V1478.2ZM1743.3 1478.2V1428.9h2.8V1478.2ZM1746.1 1478.2V1427.8h2.8V1478.2ZM1748.6 1478.2V1427.0h2.8V1478.2ZM1751.3 1478.2V1427.0h2.8V1478.2ZM1754.1 1478.2V1427.0h2.8V1478.2ZM1755.5 1478.2V1427.0h2.8V1478.2ZM1759.1 1478.2V1427.8h2.8V1478.2ZM1761.0 1478.2V1429.8h2.8V1478.2ZM1763.2 1478.2V1432.5h2.8V1478.2ZM1764.6 1478.2V1436.7h2.8V1478.2ZM1771.3 1478.2V1436.7h2.8V1478.2ZM1776.8 1478.2V1420.6h2.8V1478.2ZM1778.5 1478.2V1425.6h2.8V1478.2ZM1780.4 1478.2V1427.8h2.8V1478.2ZM1784.5 1478.2V1424.2h2.8V1478.2ZM1787.3 1478.2V1425.6h2.8V1478.2ZM1788.7 1478.2V1425.6h2.8V1478.2ZM1792.3 1478.2V1430.6h2.8V1478.2ZM1802.0 1478.2V1432.5h2.8V1478.2ZM1810.0 1478.2V1446.4h2.8V1478.2ZM1811.4 1478.2V1431.2h2.8V1478.2ZM1813.6 1478.2V1428.9h2.8V1478.2ZM1815.8 1478.2V1427.8h2.8V1478.2ZM1817.8 1478.2V1428.9h2.8V1478.2ZM1821.9 1478.2V1427.0h2.8V1478.2ZM1823.6 1478.2V1431.2h2.8V1478.2ZM1827.4 1478.2V1433.9h2.8V1478.2ZM1833.8 1478.2V1432.5h2.8V1478.2ZM1836.3 1478.2V1440.0h2.8V1478.2ZM1843.2 1478.2V1420.6h2.8V1478.2ZM1859.0 1478.2V1432.5h2.8V1478.2ZM1864.8 1478.2V1433.9h2.8V1478.2ZM1866.7 1478.2V1432.5h2.8V1478.2ZM1868.9 1478.2V1433.9h2.8V1478.2ZM1888.3 1478.2V1420.6h2.8V1478.2ZM1896.6 1478.2V1430.6h2.8V1478.2ZM1898.3 1478.2V1432.5h2.8V1478.2ZM1900.2 1478.2V1432.5h2.8V1478.2ZM1904.1 1478.2V1438.1h2.8V1478.2ZM1909.6 1478.2V1432.5h2.8V1478.2ZM1915.2 1478.2V1428.9h2.8V1478.2ZM1924.6 1478.2V1427.8h2.8V1478.2ZM1926.5 1478.2V1431.2h2.8V1478.2ZM1929.8 1478.2V1427.8h2.8V1478.2ZM1932.6 1478.2V1432.5h2.8V1478.2ZM1934.8 1478.2V1428.9h2.8V1478.2ZM1948.4 1478.2V1428.9h2.8V1478.2ZM1952.2 1478.2V1428.9h2.8V1478.2ZM1958.9 1478.2V1443.3h2.8V1478.2ZM1976.0 1478.2V1443.3h2.8V1478.2Z" fill="#8DC21F"/>
<line x1="1537.00" y1="1478.20" x2="1985.30" y2="1478.20" stroke="#000" stroke-width="1.6"/>
<path d="M1544.1 1549.2V1508.2h2.8V1549.2ZM1549.1 1549.2V1499.9h2.8V1549.2ZM1552.9 1549.2V1498.8h2.8V1549.2ZM1557.1 1549.2V1502.2h2.8V1549.2ZM1559.9 1549.2V1504.9h2.8V1549.2ZM1564.0 1549.2V1504.9h2.8V1549.2ZM1567.9 1549.2V1504.9h2.8V1549.2ZM1572.9 1549.2V1507.7h2.8V1549.2ZM1574.3 1549.2V1506.3h2.8V1549.2ZM1576.2 1549.2V1503.5h2.8V1549.2ZM1578.4 1549.2V1501.6h2.8V1549.2ZM1582.3 1549.2V1498.8h2.8V1549.2ZM1592.2 1549.2V1496.6h2.8V1549.2ZM1593.6 1549.2V1498.0h2.8V1549.2ZM1596.9 1549.2V1495.2h2.8V1549.2ZM1606.9 1549.2V1509.1h2.8V1549.2ZM1608.8 1549.2V1507.7h2.8V1549.2ZM1610.8 1549.2V1503.5h2.8V1549.2ZM1617.1 1549.2V1498.0h2.8V1549.2ZM1619.4 1549.2V1495.2h2.8V1549.2ZM1638.7 1549.2V1503.5h2.8V1549.2ZM1640.9 1549.2V1498.8h2.8V1549.2ZM1663.4 1549.2V1508.2h2.8V1549.2ZM1671.4 1549.2V1508.2h2.8V1549.2ZM1679.7 1549.2V1491.6h2.8V1549.2ZM1693.0 1549.2V1501.6h2.8V1549.2ZM1694.3 1549.2V1501.6h2.8V1549.2ZM1699.6 1549.2V1491.6h2.8V1549.2ZM1703.5 1549.2V1495.2h2.8V1549.2ZM1705.1 1549.2V1493.3h2.8V1549.2ZM1709.8 1549.2V1493.3h2.8V1549.2ZM1719.2 1549.2V1510.5h2.8V1549.2ZM1720.9 1549.2V1501.6h2.8V1549.2ZM1722.3 1549.2V1499.9h2.8V1549.2ZM1724.5 1549.2V1504.9h2.8V1549.2ZM1727.8 1549.2V1491.6h2.8V1549.2ZM1729.2 1549.2V1495.2h2.8V1549.2ZM1731.4 1549.2V1498.0h2.8V1549.2ZM1735.6 1549.2V1500.8h2.8V1549.2ZM1737.5 1549.2V1507.7h2.8V1549.2ZM1739.4 1549.2V1504.9h2.8V1549.2ZM1741.7 1549.2V1491.6h2.8V1549.2ZM1743.3 1549.2V1491.6h2.8V1549.2ZM1746.1 1549.2V1538.7h2.8V1549.2ZM1751.3 1549.2V1522.4h2.8V1549.2ZM1755.5 1549.2V1546.4h2.8V1549.2ZM1759.1 1549.2V1533.4h2.8V1549.2ZM1764.6 1549.2V1523.7h2.8V1549.2ZM1771.3 1549.2V1508.2h2.8V1549.2ZM1776.8 1549.2V1498.0h2.8V1549.2ZM1778.5 1549.2V1498.8h2.8V1549.2ZM1780.4 1549.2V1498.8h2.8V1549.2ZM1784.5 1549.2V1498.0h2.8V1549.2ZM1787.3 1549.2V1498.0h2.8V1549.2ZM1788.7 1549.2V1496.6h2.8V1549.2ZM1792.3 1549.2V1501.6h2.8V1549.2ZM1802.0 1549.2V1499.9h2.8V1549.2ZM1810.0 1549.2V1510.5h2.8V1549.2ZM1811.4 1549.2V1501.6h2.8V1549.2ZM1813.6 1549.2V1503.5h2.8V1549.2ZM1815.8 1549.2V1496.6h2.8V1549.2ZM1817.8 1549.2V1498.0h2.8V1549.2ZM1821.9 1549.2V1496.6h2.8V1549.2ZM1823.6 1549.2V1507.7h2.8V1549.2ZM1825.2 1549.2V1507.7h2.8V1549.2ZM1827.4 1549.2V1498.0h2.8V1549.2ZM1833.8 1549.2V1510.5h2.8V1549.2ZM1836.3 1549.2V1508.2h2.8V1549.2ZM1843.2 1549.2V1496.6h2.8V1549.2ZM1859.0 1549.2V1504.9h2.8V1549.2ZM1864.8 1549.2V1504.9h2.8V1549.2ZM1866.7 1549.2V1499.9h2.8V1549.2ZM1868.9 1549.2V1495.2h2.8V1549.2ZM1888.3 1549.2V1498.8h2.8V1549.2ZM1896.6 1549.2V1499.9h2.8V1549.2ZM1898.3 1549.2V1507.7h2.8V1549.2ZM1900.2 1549.2V1519.3h2.8V1549.2ZM1904.1 1549.2V1496.6h2.8V1549.2ZM1909.6 1549.2V1509.1h2.8V1549.2ZM1924.6 1549.2V1503.5h2.8V1549.2ZM1926.5 1549.2V1502.2h2.8V1549.2ZM1929.8 1549.2V1506.3h2.8V1549.2ZM1932.6 1549.2V1496.6h2.8V1549.2ZM1934.8 1549.2V1498.0h2.8V1549.2ZM1948.4 1549.2V1503.5h2.8V1549.2ZM1952.2 1549.2V1506.3h2.8V1549.2ZM1958.9 1549.2V1516.0h2.8V1549.2ZM1976.0 1549.2V1504.9h2.8V1549.2Z" fill="#F5300A"/>
<line x1="1537.00" y1="1549.20" x2="1985.30" y2="1549.20" stroke="#000" stroke-width="1.6"/>
<path d="M1544.1 1618.2V1567.8h2.8V1618.2ZM1549.1 1618.2V1573.9h2.8V1618.2ZM1552.9 1618.2V1569.8h2.8V1618.2ZM1557.1 1618.2V1576.7h2.8V1618.2ZM1559.9 1618.2V1569.8h2.8V1618.2ZM1564.0 1618.2V1581.7h2.8V1618.2ZM1567.9 1618.2V1577.2h2.8V1618.2ZM1572.9 1618.2V1573.9h2.8V1618.2ZM1574.3 1618.2V1573.9h2.8V1618.2ZM1576.2 1618.2V1570.6h2.8V1618.2ZM1578.4 1618.2V1565.6h2.8V1618.2ZM1582.3 1618.2V1562.3h2.8V1618.2ZM1592.2 1618.2V1562.3h2.8V1618.2ZM1593.6 1618.2V1564.2h2.8V1618.2ZM1596.9 1618.2V1565.6h2.8V1618.2ZM1606.9 1618.2V1567.0h2.8V1618.2ZM1608.8 1618.2V1565.6h2.8V1618.2ZM1610.8 1618.2V1567.0h2.8V1618.2ZM1617.1 1618.2V1562.3h2.8V1618.2ZM1619.4 1618.2V1565.6h2.8V1618.2ZM1638.7 1618.2V1576.7h2.8V1618.2ZM1640.9 1618.2V1567.8h2.8V1618.2ZM1663.4 1618.2V1579.5h2.8V1618.2ZM1671.4 1618.2V1571.2h2.8V1618.2ZM1679.7 1618.2V1567.0h2.8V1618.2ZM1693.0 1618.2V1570.6h2.8V1618.2ZM1694.3 1618.2V1570.6h2.8V1618.2ZM1699.6 1618.2V1562.3h2.8V1618.2ZM1703.5 1618.2V1565.6h2.8V1618.2ZM1705.1 1618.2V1565.6h2.8V1618.2ZM1709.8 1618.2V1565.6h2.8V1618.2ZM1719.2 1618.2V1571.2h2.8V1618.2ZM1720.9 1618.2V1573.9h2.8V1618.2ZM1722.3 1618.2V1576.7h2.8V1618.2ZM1724.5 1618.2V1575.3h2.8V1618.2ZM1727.8 1618.2V1576.7h2.8V1618.2ZM1729.2 1618.2V1579.5h2.8V1618.2ZM1735.6 1618.2V1567.8h2.8V1618.2ZM1737.5 1618.2V1573.9h2.8V1618.2ZM1739.4 1618.2V1577.2h2.8V1618.2ZM1741.7 1618.2V1572.5h2.8V1618.2ZM1743.3 1618.2V1580.0h2.8V1618.2ZM1746.1 1618.2V1602.4h2.8V1618.2ZM1751.3 1618.2V1591.4h2.8V1618.2ZM1755.5 1618.2V1616.8h2.8V1618.2ZM1759.1 1618.2V1601.0h2.8V1618.2ZM1764.6 1618.2V1588.3h2.8V1618.2ZM1771.3 1618.2V1577.2h2.8V1618.2ZM1776.8 1618.2V1567.0h2.8V1618.2ZM1778.5 1618.2V1568.9h2.8V1618.2ZM1780.4 1618.2V1573.9h2.8V1618.2ZM1784.5 1618.2V1571.2h2.8V1618.2ZM1787.3 1618.2V1572.5h2.8V1618.2ZM1788.7 1618.2V1572.5h2.8V1618.2ZM1792.3 1618.2V1572.5h2.8V1618.2ZM1802.0 1618.2V1567.8h2.8V1618.2ZM1810.0 1618.2V1581.7h2.8V1618.2ZM1811.4 1618.2V1562.3h2.8V1618.2ZM1813.6 1618.2V1565.6h2.8V1618.2ZM1815.8 1618.2V1565.6h2.8V1618.2ZM1817.8 1618.2V1565.6h2.8V1618.2ZM1821.9 1618.2V1572.5h2.8V1618.2ZM1823.6 1618.2V1571.2h2.8V1618.2ZM1825.2 1618.2V1565.6h2.8V1618.2ZM1827.4 1618.2V1567.0h2.8V1618.2ZM1833.8 1618.2V1573.9h2.8V1618.2ZM1836.3 1618.2V1570.6h2.8V1618.2ZM1843.2 1618.2V1562.3h2.8V1618.2ZM1859.0 1618.2V1567.0h2.8V1618.2ZM1864.8 1618.2V1572.5h2.8V1618.2ZM1866.7 1618.2V1572.5h2.8V1618.2ZM1868.9 1618.2V1573.9h2.8V1618.2ZM1888.3 1618.2V1567.0h2.8V1618.2ZM1896.6 1618.2V1565.6h2.8V1618.2ZM1898.3 1618.2V1577.2h2.8V1618.2ZM1900.2 1618.2V1594.7h2.8V1618.2ZM1904.1 1618.2V1572.5h2.8V1618.2ZM1909.6 1618.2V1572.5h2.8V1618.2ZM1924.6 1618.2V1581.7h2.8V1618.2ZM1926.5 1618.2V1572.5h2.8V1618.2ZM1929.8 1618.2V1572.5h2.8V1618.2ZM1932.6 1618.2V1572.5h2.8V1618.2ZM1934.8 1618.2V1567.0h2.8V1618.2ZM1948.4 1618.2V1565.6h2.8V1618.2ZM1952.2 1618.2V1562.3h2.8V1618.2ZM1958.9 1618.2V1586.4h2.8V1618.2ZM1976.0 1618.2V1573.9h2.8V1618.2Z" fill="#F5300A"/>
<line x1="1537.00" y1="1618.20" x2="1985.30" y2="1618.20" stroke="#000" stroke-width="1.6"/>
<line x1="1527.00" y1="78.30" x2="1527.00" y2="263.30" stroke="#000" stroke-width="3.2"/>
<line x1="1527.00" y1="301.70" x2="1527.00" y2="415.00" stroke="#000" stroke-width="3.2"/>
<line x1="1527.00" y1="437.30" x2="1527.00" y2="478.30" stroke="#000" stroke-width="3.2"/>
<line x1="1527.00" y1="501.70" x2="1527.00" y2="613.30" stroke="#000" stroke-width="3.2"/>
<line x1="1527.00" y1="635.50" x2="1527.00" y2="748.30" stroke="#000" stroke-width="3.2"/>
<line x1="1527.00" y1="789.30" x2="1527.00" y2="901.70" stroke="#000" stroke-width="3.2"/>
<line x1="1527.00" y1="934.00" x2="1527.00" y2="1046.70" stroke="#000" stroke-width="3.2"/>
<line x1="1527.00" y1="1072.30" x2="1527.00" y2="1185.00" stroke="#000" stroke-width="3.2"/>
<line x1="1527.00" y1="1211.70" x2="1527.00" y2="1324.00" stroke="#000" stroke-width="3.2"/>
<line x1="1527.00" y1="1353.30" x2="1527.00" y2="1466.00" stroke="#000" stroke-width="3.2"/>
<line x1="1527.00" y1="1500.00" x2="1527.00" y2="1613.30" stroke="#000" stroke-width="3.2"/>
<line x1="1276.30" y1="130.00" x2="1276.30" y2="449.30" stroke="#000" stroke-width="3.2"/>
<line x1="1276.30" y1="544.00" x2="1276.30" y2="697.30" stroke="#000" stroke-width="3.2"/>
<line x1="1273.30" y1="843.30" x2="1273.30" y2="1144.00" stroke="#000" stroke-width="3.2"/>
<line x1="1276.30" y1="1266.70" x2="1276.30" y2="1567.30" stroke="#000" stroke-width="3.2"/>
<line x1="1548.00" y1="50.50" x2="1672.50" y2="50.50" stroke="#000" stroke-width="1.6"/>
<path d="M1537.2 50.5 L1551.2 45.3 L1551.2 55.7 Z" fill="#000"/>
<line x1="1846.30" y1="50.50" x2="1974.00" y2="50.50" stroke="#000" stroke-width="1.6"/>
<path d="M1985.2 50.5 L1971.2 45.3 L1971.2 55.7 Z" fill="#000"/>
<rect x="1656.00" y="1636.60" width="21.00" height="16.10" fill="#000"/>
<path d="M1677.4 1641.6 L1674.6 1644.7 L1677.4 1647.8 Z" fill="#fff"/>
<rect x="1718.20" y="1636.60" width="74.20" height="16.10" fill="#000"/>
<path d="M1734.8 1640.9 L1738.6 1644.7 L1734.8 1648.5" fill="none" stroke="#fff" stroke-width="1.3"/>
<path d="M1774.7 1640.9 L1778.5 1644.7 L1774.7 1648.5" fill="none" stroke="#fff" stroke-width="1.3"/>
</g>
<g>
<rect x="1318.40" y="1921.00" width="24.00" height="303.50" fill="#D4D4D4" stroke="#000" stroke-width="2.6"/>
<line x1="1330.40" y1="2224.50" x2="1330.40" y2="2235.00" stroke="#000" stroke-width="2.6"/>
<rect x="1355.65" y="1968.30" width="24.00" height="256.20" fill="#92D050" stroke="#000" stroke-width="2.6"/>
<line x1="1367.65" y1="2224.50" x2="1367.65" y2="2235.00" stroke="#000" stroke-width="2.6"/>
<rect x="1392.90" y="1928.30" width="24.00" height="296.20" fill="#0DB14B" stroke="#000" stroke-width="2.6"/>
<line x1="1404.90" y1="2224.50" x2="1404.90" y2="2235.00" stroke="#000" stroke-width="2.6"/>
<rect x="1430.15" y="2163.30" width="24.00" height="61.20" fill="#FFD580" stroke="#000" stroke-width="2.6"/>
<line x1="1442.15" y1="2224.50" x2="1442.15" y2="2235.00" stroke="#000" stroke-width="2.6"/>
<rect x="1467.40" y="2121.00" width="24.00" height="103.50" fill="#FF9900" stroke="#000" stroke-width="2.6"/>
<line x1="1479.40" y1="2224.50" x2="1479.40" y2="2235.00" stroke="#000" stroke-width="2.6"/>
<rect x="1504.65" y="1985.00" width="24.00" height="239.50" fill="#E4DFEC" stroke="#000" stroke-width="2.6"/>
<line x1="1516.65" y1="2224.50" x2="1516.65" y2="2235.00" stroke="#000" stroke-width="2.6"/>
<rect x="1541.90" y="1944.30" width="24.00" height="280.20" fill="#B3A2C7" stroke="#000" stroke-width="2.6"/>
<line x1="1553.90" y1="2224.50" x2="1553.90" y2="2235.00" stroke="#000" stroke-width="2.6"/>
<rect x="1579.15" y="2156.70" width="24.00" height="67.80" fill="#7030A0" stroke="#000" stroke-width="2.6"/>
<line x1="1591.15" y1="2224.50" x2="1591.15" y2="2235.00" stroke="#000" stroke-width="2.6"/>
<line x1="1496.70" y1="1828.00" x2="1496.70" y2="2234.50" stroke="#000" stroke-width="2.6" stroke-dasharray="11.8 4.2"/>
<line x1="1302.10" y1="2224.50" x2="1611.30" y2="2224.50" stroke="#000" stroke-width="2.6"/>
<line x1="1312.60" y1="1833.70" x2="1312.60" y2="2225.80" stroke="#000" stroke-width="2.6"/>
<line x1="1610.00" y1="1833.70" x2="1610.00" y2="2225.80" stroke="#000" stroke-width="2.6"/>
<line x1="1302.10" y1="2224.50" x2="1312.60" y2="2224.50" stroke="#000" stroke-width="2.6"/>
<line x1="1302.10" y1="2159.58" x2="1312.60" y2="2159.58" stroke="#000" stroke-width="2.6"/>
<line x1="1302.10" y1="2094.67" x2="1312.60" y2="2094.67" stroke="#000" stroke-width="2.6"/>
<line x1="1302.10" y1="2029.75" x2="1312.60" y2="2029.75" stroke="#000" stroke-width="2.6"/>
<line x1="1302.10" y1="1964.83" x2="1312.60" y2="1964.83" stroke="#000" stroke-width="2.6"/>
<line x1="1302.10" y1="1899.92" x2="1312.60" y2="1899.92" stroke="#000" stroke-width="2.6"/>
<line x1="1302.10" y1="1835.00" x2="1312.60" y2="1835.00" stroke="#000" stroke-width="2.6"/>
<line x1="1610.00" y1="2224.50" x2="1618.60" y2="2224.50" stroke="#000" stroke-width="2.6"/>
<line x1="1610.00" y1="2146.60" x2="1618.60" y2="2146.60" stroke="#000" stroke-width="2.6"/>
<line x1="1610.00" y1="2068.70" x2="1618.60" y2="2068.70" stroke="#000" stroke-width="2.6"/>
<line x1="1610.00" y1="1990.80" x2="1618.60" y2="1990.80" stroke="#000" stroke-width="2.6"/>
<line x1="1610.00" y1="1912.90" x2="1618.60" y2="1912.90" stroke="#000" stroke-width="2.6"/>
<line x1="1610.00" y1="1835.00" x2="1618.60" y2="1835.00" stroke="#000" stroke-width="2.6"/>
<rect x="1754.30" y="1831.70" width="41.70" height="39.30" fill="#BFBFBF" stroke="#000" stroke-width="2.0"/>
<rect x="1754.30" y="1871.00" width="41.70" height="40.70" fill="#92D050" stroke="#000" stroke-width="2.0"/>
<rect x="1754.30" y="1911.70" width="41.70" height="40.00" fill="#0DB14B" stroke="#000" stroke-width="2.0"/>
<rect x="1754.30" y="1951.70" width="41.70" height="40.00" fill="#FFD580" stroke="#000" stroke-width="2.0"/>
<rect x="1754.30" y="1991.70" width="41.70" height="40.00" fill="#FF9900" stroke="#000" stroke-width="2.0"/>
<rect x="1754.30" y="2044.00" width="41.70" height="39.30" fill="#E4DFEC" stroke="#000" stroke-width="2.0"/>
<rect x="1754.30" y="2083.30" width="41.70" height="39.00" fill="#B3A2C7" stroke="#000" stroke-width="2.0"/>
<rect x="1754.30" y="2122.30" width="41.70" height="41.00" fill="#7030A0" stroke="#000" stroke-width="2.0"/>
</g>
<g>
<text x="87.56" y="262.40" font-size="28.50">25</text>
<text x="133.74" y="262.40" font-size="28.50">20</text>
<text x="180.24" y="262.40" font-size="28.50">15</text>
<text x="226.51" y="262.40" font-size="28.50">10</text>
<text x="281.61" y="262.40" font-size="28.50">5</text>
<text x="327.58" y="262.40" font-size="28.50">0</text>
<text x="135.51" y="294.70" font-size="28.50" letter-spacing="0.508">%integrants</text>
<text x="87.54" y="820.30" font-size="28.50">15</text>
<text x="164.61" y="820.30" font-size="28.50">10</text>
<text x="250.51" y="820.30" font-size="28.50">5</text>
<text x="327.58" y="820.30" font-size="28.50">0</text>
<text x="133.41" y="853.30" font-size="28.50" letter-spacing="0.528">%integrants</text>
<text x="583.84" y="262.40" font-size="28.50">20</text>
<text x="641.64" y="262.40" font-size="28.50">15</text>
<text x="699.41" y="262.40" font-size="28.50">10</text>
<text x="765.91" y="262.40" font-size="28.50">5</text>
<text x="823.68" y="262.40" font-size="28.50">0</text>
<text x="649.81" y="294.70" font-size="28.50" letter-spacing="0.488">%integrants</text>
<text x="584.06" y="670.70" font-size="28.50">25</text>
<text x="630.14" y="670.70" font-size="28.50">20</text>
<text x="676.54" y="670.70" font-size="28.50">15</text>
<text x="722.61" y="670.70" font-size="28.50">10</text>
<text x="777.61" y="670.70" font-size="28.50">5</text>
<text x="823.68" y="670.70" font-size="28.50">0</text>
<text x="644.11" y="700.70" font-size="28.50" letter-spacing="0.458">%integrants</text>
<text x="340.30" y="112.70" font-size="34.50" letter-spacing="0.151">HERVK-int</text>
<text x="340.30" y="159.30" font-size="34.50" letter-spacing="0.286">LTR5_Hs</text>
<text x="340.30" y="212.60" font-size="34.50" letter-spacing="0.151">HERVE-int</text>
<text x="340.30" y="372.70" font-size="34.50" letter-spacing="0.451">LTR13</text>
<text x="342.92" y="422.70" font-size="34.50" letter-spacing="-0.936">SST1</text>
<text x="340.30" y="472.70" font-size="34.50" letter-spacing="0.337">LTR12C</text>
<text x="340.30" y="522.30" font-size="34.50" letter-spacing="0.067">HERV9-int</text>
<text x="340.30" y="571.70" font-size="34.50" letter-spacing="0.151">HERVE-int</text>
<text x="340.30" y="621.70" font-size="34.50" letter-spacing="0.156">HERVIP10F-int</text>
<text x="342.92" y="669.00" font-size="34.50" letter-spacing="-0.150">SVA_D</text>
<text x="344.00" y="719.00" font-size="34.50" letter-spacing="-0.082">ALR/Alpha</text>
<text x="340.30" y="771.70" font-size="34.50" letter-spacing="0.141">HERV9NC-int</text>
<text x="836.30" y="112.70" font-size="34.50" letter-spacing="0.276">HERVH-int</text>
<text x="836.30" y="159.30" font-size="34.50" letter-spacing="0.530">LTR7</text>
<text x="836.30" y="212.30" font-size="34.50" letter-spacing="0.250">HERVIP10B3-int</text>
<text x="836.30" y="372.70" font-size="34.50" letter-spacing="0.276">HERVH-int</text>
<text x="836.30" y="422.70" font-size="34.50" letter-spacing="0.301">HERVK-int</text>
<text x="836.30" y="472.70" font-size="34.50" letter-spacing="0.530">LTR7</text>
<text x="836.30" y="522.30" font-size="34.50" letter-spacing="0.250">HERVIP10B3-int</text>
<text x="836.30" y="571.70" font-size="34.50" letter-spacing="0.301">HERVE-int</text>
<text x="836.30" y="621.70" font-size="34.50" letter-spacing="0.238">LTR7Y</text>
<text x="201.56" y="63.60" font-size="39.00" letter-spacing="0.464">Up</text>
<text x="670.95" y="63.60" font-size="39.00" letter-spacing="0.743">Down</text>
<text x="12.32" y="57.30" font-size="48.00" font-weight="bold">a</text>
<text x="-3.01" y="0.00" font-size="38.50" letter-spacing="-0.410" transform="translate(55.10 185.50) rotate(-90)">DM<tspan font-size="23.87" dy="-16.17">+</tspan></text>
<text x="-3.01" y="0.00" font-size="38.50" letter-spacing="-0.351" transform="translate(91.40 215.00) rotate(-90)">PGCLC</text>
<text x="-1.20" y="0.00" font-size="38.50" letter-spacing="-0.058" transform="translate(55.10 627.60) rotate(-90)">d8 DZ<tspan font-size="23.87" dy="-16.17">+</tspan></text>
<text x="-3.01" y="0.00" font-size="38.50" letter-spacing="-0.351" transform="translate(91.40 631.80) rotate(-90)">PGCLC</text>
<text x="76.47" y="1320.50" font-size="33.00">0</text>
<text x="76.98" y="1213.00" font-size="33.00">2</text>
<text x="76.47" y="1105.50" font-size="33.00">4</text>
<text x="76.98" y="998.00" font-size="33.00">6</text>
<text x="464.27" y="1320.00" font-size="33.00">0</text>
<text x="464.78" y="1212.30" font-size="33.00">2</text>
<text x="464.27" y="1104.60" font-size="33.00">4</text>
<text x="464.78" y="996.90" font-size="33.00">6</text>
<text x="76.47" y="1746.90" font-size="33.00">0</text>
<text x="76.98" y="1681.90" font-size="33.00">2</text>
<text x="76.47" y="1616.90" font-size="33.00">4</text>
<text x="76.98" y="1551.90" font-size="33.00">6</text>
<text x="76.98" y="1486.90" font-size="33.00">8</text>
<text x="58.12" y="1421.90" font-size="33.00">10</text>
<text x="464.97" y="1746.50" font-size="33.00">0</text>
<text x="465.48" y="1681.70" font-size="33.00">2</text>
<text x="464.97" y="1616.90" font-size="33.00">4</text>
<text x="465.48" y="1552.10" font-size="33.00">6</text>
<text x="465.48" y="1487.30" font-size="33.00">8</text>
<text x="446.62" y="1422.50" font-size="33.00">10</text>
<text x="330.59" y="940.00" font-size="38.50" letter-spacing="1.560">LTR7</text>
<text x="289.99" y="1369.30" font-size="38.50" letter-spacing="0.503">HERVH-int</text>
<text x="8.06" y="935.30" font-size="53.50" font-weight="bold">b</text>
<text x="-3.01" y="0.00" font-size="38.50" letter-spacing="-0.309" transform="translate(52.30 1267.30) rotate(-90)">Log2 (NC+1)</text>
<text x="-3.01" y="0.00" font-size="38.50" letter-spacing="-1.019" transform="translate(51.60 1687.90) rotate(-90)">Log2 (NC+1)</text>
<text x="772.19" y="1007.70" font-size="32.50" letter-spacing="0.454">4iESC</text>
<text x="770.16" y="1045.70" font-size="32.50" letter-spacing="0.811">N3<tspan font-size="20.15" dy="-13.00">+</tspan><tspan dy="13.00">PGCLC</tspan></text>
<text x="770.16" y="1083.30" font-size="32.50" letter-spacing="0.855">DM<tspan font-size="20.15" dy="-13.00">+</tspan><tspan dy="13.00">PGCLC</tspan></text>
<text x="771.68" y="1121.00" font-size="32.50" letter-spacing="0.450">d4 DZ<tspan font-size="20.15" dy="-13.00">+</tspan><tspan dy="13.00">PGCLC</tspan></text>
<text x="771.68" y="1158.30" font-size="32.50" letter-spacing="0.450">d8 DZ<tspan font-size="20.15" dy="-13.00">+</tspan><tspan dy="13.00">PGCLC</tspan></text>
<text x="773.21" y="1211.70" font-size="32.50" letter-spacing="0.243">week 5 PGC</text>
<text x="773.21" y="1248.30" font-size="32.50" letter-spacing="0.243">week 7 PGC</text>
<text x="773.21" y="1285.00" font-size="32.50" letter-spacing="0.243">week 9 PGC</text>
<text x="39.93" y="1935.70" font-size="29.00" letter-spacing="0.664" style="stroke-width:0.15px">PGC</text>
<text x="10.19" y="1962.00" font-size="29.00" letter-spacing="0.146" style="stroke-width:0.15px">precursor</text>
<text x="200.13" y="1939.40" font-size="29.00" letter-spacing="0.130" style="stroke-width:0.15px">Nascent</text>
<text x="221.83" y="1965.00" font-size="29.00" letter-spacing="0.464" style="stroke-width:0.15px">PGC</text>
<text x="373.73" y="1939.40" font-size="29.00" letter-spacing="0.201" style="stroke-width:0.15px">Migratory</text>
<text x="402.73" y="1965.00" font-size="29.00" letter-spacing="0.714" style="stroke-width:0.15px">PGC</text>
<text x="575.43" y="1939.40" font-size="29.00" letter-spacing="0.489" style="stroke-width:0.15px">Mitotic</text>
<text x="586.03" y="1965.00" font-size="29.00" letter-spacing="1.064" style="stroke-width:0.15px">PGC</text>
<text x="756.73" y="1925.60" font-size="29.00" letter-spacing="0.439" style="stroke-width:0.15px">Mitotic</text>
<text x="762.39" y="1952.00" font-size="29.00" letter-spacing="0.136" style="stroke-width:0.15px">arrest</text>
<text x="767.33" y="1978.00" font-size="29.00" letter-spacing="0.764" style="stroke-width:0.15px">PGC</text>
<text x="877.54" y="2066.00" font-size="31.50" letter-spacing="-0.078">LTR7, HERVH-int</text>
<text x="877.54" y="2133.50" font-size="31.50" letter-spacing="-0.063">LTR5_Hs, HERVK-int</text>
<text x="877.54" y="2178.70" font-size="31.50" letter-spacing="-0.056">LTR12C,SVA_D</text>
<text x="879.02" y="2208.50" font-size="31.50" letter-spacing="-0.314">SST1, ALR/Alpha</text>
<text x="7.36" y="1836.80" font-size="51.00" font-weight="bold">c</text>
<text x="1688.77" y="60.30" font-size="39.50" letter-spacing="0.275">8,769bp</text>
<text x="1601.90" y="1680.30" font-size="29.50" letter-spacing="-0.134">MSTB</text>
<text x="1683.28" y="1698.80" font-size="42.50" letter-spacing="-0.501">LTR12C</text>
<text x="1569.49" y="1733.70" font-size="29.00" letter-spacing="0.005">chr15:80,012,784-80,021,551</text>
<text x="1285.61" y="184.30" font-size="35.00" letter-spacing="0.434">d4 DZ<tspan font-size="21.70" dy="-14.35">+</tspan><tspan dy="14.35">PGCLC</tspan></text>
<text x="1285.61" y="371.70" font-size="35.00" letter-spacing="0.434">d8 DZ<tspan font-size="21.70" dy="-14.35">+</tspan><tspan dy="14.35">PGCLC</tspan></text>
<text x="1462.27" y="467.70" font-size="35.00" letter-spacing="0.618">IgG</text>
<text x="1285.61" y="570.70" font-size="35.00" letter-spacing="0.434">d4 DZ<tspan font-size="21.70" dy="-14.35">+</tspan><tspan dy="14.35">PGCLC</tspan></text>
<text x="1285.61" y="696.00" font-size="35.00" letter-spacing="0.434">d8 DZ<tspan font-size="21.70" dy="-14.35">+</tspan><tspan dy="14.35">PGCLC</tspan></text>
<text x="1372.15" y="852.30" font-size="35.00" letter-spacing="0.284">4i ES cell</text>
<text x="1337.97" y="1004.50" font-size="35.00" letter-spacing="0.364">N3<tspan font-size="21.70" dy="-14.35">+</tspan><tspan dy="14.35">PGCLC</tspan></text>
<text x="1285.61" y="1140.70" font-size="35.00" letter-spacing="0.434">d8 DZ<tspan font-size="21.70" dy="-14.35">+</tspan><tspan dy="14.35">PGCLC</tspan></text>
<text x="1372.15" y="1286.70" font-size="35.00" letter-spacing="0.284">4i ES cell</text>
<text x="1337.97" y="1424.10" font-size="35.00" letter-spacing="0.364">N3<tspan font-size="21.70" dy="-14.35">+</tspan><tspan dy="14.35">PGCLC</tspan></text>
<text x="1285.61" y="1557.70" font-size="35.00" letter-spacing="0.434">d8 DZ<tspan font-size="21.70" dy="-14.35">+</tspan><tspan dy="14.35">PGCLC</tspan></text>
<text x="1138.79" y="243.80" font-size="38.50" letter-spacing="-1.661">DMRT1</text>
<text x="1139.79" y="280.00" font-size="38.50" letter-spacing="-1.094">peak</text>
<text x="1139.39" y="316.50" font-size="38.50" letter-spacing="-0.374">[0-30]</text>
<text x="1163.19" y="599.60" font-size="38.50" letter-spacing="-0.483">RNA</text>
<text x="1163.70" y="635.90" font-size="38.50" letter-spacing="-0.905">exp</text>
<text x="1163.49" y="671.30" font-size="38.50" letter-spacing="-0.278">[0-0.4]</text>
<text x="1158.80" y="984.00" font-size="38.50" letter-spacing="-0.620">5hmC</text>
<text x="1158.29" y="1020.60" font-size="38.50" letter-spacing="-0.028">[0-0.5]</text>
<text x="1185.50" y="1403.00" font-size="38.50" letter-spacing="-0.724">5mC</text>
<text x="1184.89" y="1439.70" font-size="38.50" letter-spacing="0.086">[0-1]</text>
<text x="1134.54" y="60.10" font-size="53.50" font-weight="bold">d</text>
<text x="1282.33" y="2227.40" font-size="32.50">0</text>
<text x="1282.84" y="2163.78" font-size="32.50">1</text>
<text x="1282.84" y="2100.17" font-size="32.50">2</text>
<text x="1282.84" y="2036.55" font-size="32.50">3</text>
<text x="1282.33" y="1972.93" font-size="32.50">4</text>
<text x="1282.84" y="1909.32" font-size="32.50">5</text>
<text x="1282.84" y="1845.70" font-size="32.50">6</text>
<text x="1619.28" y="2227.40" font-size="32.50" letter-spacing="-1.827">0.0</text>
<text x="1619.28" y="2151.00" font-size="32.50" letter-spacing="-1.573">0.5</text>
<text x="1618.27" y="2074.60" font-size="32.50" letter-spacing="-1.319">1.0</text>
<text x="1618.27" y="1998.20" font-size="32.50" letter-spacing="-1.066">1.5</text>
<text x="1618.78" y="1921.80" font-size="32.50" letter-spacing="-1.573">2.0</text>
<text x="1618.78" y="1845.40" font-size="32.50" letter-spacing="-1.319">2.5</text>
<text x="1380.50" y="1801.00" font-size="38.50" letter-spacing="0.570">CENP-A</text>
<text x="1199.96" y="1804.60" font-size="51.00" font-weight="bold">e</text>
<text x="-2.41" y="0.00" font-size="38.50" letter-spacing="0.331" transform="translate(1268.30 2159.30) rotate(-90)">log2(RPKM+ 0.1)</text>
<text x="-2.41" y="0.00" font-size="38.50" letter-spacing="0.166" transform="translate(1679.70 1862.70) rotate(90)">log2(TPM/10 + 1)</text>
<text x="1805.45" y="1863.30" font-size="35.50" letter-spacing="0.102">4i ES cell</text>
<text x="1803.23" y="1904.30" font-size="35.50" letter-spacing="0.352">N3<tspan font-size="22.01" dy="-14.55">+</tspan><tspan dy="14.55">PGCLC</tspan></text>
<text x="1803.23" y="1944.30" font-size="35.50" letter-spacing="0.276">DM<tspan font-size="22.01" dy="-14.55">+</tspan><tspan dy="14.55">PGCLC</tspan></text>
<text x="1804.89" y="1984.30" font-size="35.50" letter-spacing="0.051">d4 DZ<tspan font-size="22.01" dy="-14.55">+</tspan><tspan dy="14.55">PGCLC</tspan></text>
<text x="1804.89" y="2025.70" font-size="35.50" letter-spacing="0.051">d8 DZ<tspan font-size="22.01" dy="-14.55">+</tspan><tspan dy="14.55">PGCLC</tspan></text>
<text x="1803.78" y="2075.70" font-size="35.50" letter-spacing="0.034">migratory</text>
<text x="1803.78" y="2115.00" font-size="35.50" letter-spacing="0.201">mitotic</text>
<text x="1803.78" y="2154.30" font-size="35.50" letter-spacing="0.048">mitotic arrest</text>
</g>
</svg>
</body></html>
